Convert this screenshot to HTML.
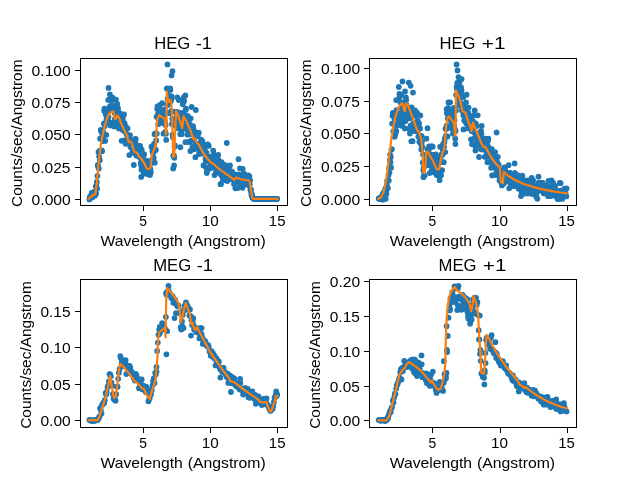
<!DOCTYPE html>
<html><head><meta charset="utf-8"><title>spectra</title>
<style>html,body{margin:0;padding:0;background:#fff;overflow:hidden}svg{display:block;will-change:transform;opacity:.999}text{font-family:"Liberation Sans",sans-serif;fill:#000}</style></head><body>
<svg width="640" height="480" viewBox="0 0 640 480">
<rect width="640" height="480" fill="#fff"/>
<g id="ax0">
<clipPath id="c0"><rect x="80.00" y="57.60" width="206.67" height="147.84"/></clipPath>
<g clip-path="url(#c0)" fill="#1f77b4" stroke="#1f77b4" stroke-width="1.39">
<circle cx="89.4" cy="199.4" r="2.2"/><circle cx="89.7" cy="197.4" r="2.2"/><circle cx="90.1" cy="197.5" r="2.2"/><circle cx="90.4" cy="197.7" r="2.2"/><circle cx="90.7" cy="195.8" r="2.2"/><circle cx="91.1" cy="196.6" r="2.2"/><circle cx="91.4" cy="196.2" r="2.2"/><circle cx="91.7" cy="193.0" r="2.2"/><circle cx="92.1" cy="197.4" r="2.2"/><circle cx="92.4" cy="196.4" r="2.2"/><circle cx="92.7" cy="193.9" r="2.2"/><circle cx="93.1" cy="194.7" r="2.2"/><circle cx="93.4" cy="195.9" r="2.2"/><circle cx="93.8" cy="194.3" r="2.2"/><circle cx="94.1" cy="194.3" r="2.2"/><circle cx="94.4" cy="191.7" r="2.2"/><circle cx="94.8" cy="195.7" r="2.2"/><circle cx="95.1" cy="194.7" r="2.2"/><circle cx="95.4" cy="193.7" r="2.2"/><circle cx="95.8" cy="186.3" r="2.2"/><circle cx="96.1" cy="193.6" r="2.2"/><circle cx="96.4" cy="186.4" r="2.2"/><circle cx="96.8" cy="181.9" r="2.2"/><circle cx="97.1" cy="188.8" r="2.2"/><circle cx="97.4" cy="176.0" r="2.2"/><circle cx="97.8" cy="165.0" r="2.2"/><circle cx="98.1" cy="166.4" r="2.2"/><circle cx="98.5" cy="152.1" r="2.2"/><circle cx="98.8" cy="168.5" r="2.2"/><circle cx="99.1" cy="156.3" r="2.2"/><circle cx="99.5" cy="150.9" r="2.2"/><circle cx="99.8" cy="160.2" r="2.2"/><circle cx="100.1" cy="138.7" r="2.2"/><circle cx="100.5" cy="151.2" r="2.2"/><circle cx="100.8" cy="129.9" r="2.2"/><circle cx="101.1" cy="138.1" r="2.2"/><circle cx="101.5" cy="131.9" r="2.2"/><circle cx="101.8" cy="150.3" r="2.2"/><circle cx="102.1" cy="151.2" r="2.2"/><circle cx="102.5" cy="133.3" r="2.2"/><circle cx="102.8" cy="141.1" r="2.2"/><circle cx="103.1" cy="131.4" r="2.2"/><circle cx="103.5" cy="136.0" r="2.2"/><circle cx="103.8" cy="123.6" r="2.2"/><circle cx="104.2" cy="111.0" r="2.2"/><circle cx="104.5" cy="108.7" r="2.2"/><circle cx="104.8" cy="126.0" r="2.2"/><circle cx="105.2" cy="140.9" r="2.2"/><circle cx="105.5" cy="122.7" r="2.2"/><circle cx="105.8" cy="114.6" r="2.2"/><circle cx="106.2" cy="134.9" r="2.2"/><circle cx="106.5" cy="119.0" r="2.2"/><circle cx="106.8" cy="116.6" r="2.2"/><circle cx="107.2" cy="117.2" r="2.2"/><circle cx="107.5" cy="113.1" r="2.2"/><circle cx="107.8" cy="110.8" r="2.2"/><circle cx="108.2" cy="99.9" r="2.2"/><circle cx="108.5" cy="116.8" r="2.2"/><circle cx="108.9" cy="110.7" r="2.2"/><circle cx="109.2" cy="121.9" r="2.2"/><circle cx="109.5" cy="107.0" r="2.2"/><circle cx="109.9" cy="94.5" r="2.2"/><circle cx="110.2" cy="109.0" r="2.2"/><circle cx="110.5" cy="125.4" r="2.2"/><circle cx="110.9" cy="105.8" r="2.2"/><circle cx="111.2" cy="100.9" r="2.2"/><circle cx="111.5" cy="97.8" r="2.2"/><circle cx="111.9" cy="98.8" r="2.2"/><circle cx="112.2" cy="105.8" r="2.2"/><circle cx="112.5" cy="97.6" r="2.2"/><circle cx="112.9" cy="122.6" r="2.2"/><circle cx="113.2" cy="106.0" r="2.2"/><circle cx="113.5" cy="109.9" r="2.2"/><circle cx="113.9" cy="124.2" r="2.2"/><circle cx="114.2" cy="126.6" r="2.2"/><circle cx="114.6" cy="113.0" r="2.2"/><circle cx="114.9" cy="119.0" r="2.2"/><circle cx="115.2" cy="122.5" r="2.2"/><circle cx="115.6" cy="114.1" r="2.2"/><circle cx="115.9" cy="99.7" r="2.2"/><circle cx="116.2" cy="121.4" r="2.2"/><circle cx="116.6" cy="122.6" r="2.2"/><circle cx="116.9" cy="117.2" r="2.2"/><circle cx="117.2" cy="104.0" r="2.2"/><circle cx="117.6" cy="111.0" r="2.2"/><circle cx="117.9" cy="107.8" r="2.2"/><circle cx="118.2" cy="110.9" r="2.2"/><circle cx="118.6" cy="125.8" r="2.2"/><circle cx="118.9" cy="128.4" r="2.2"/><circle cx="119.3" cy="121.5" r="2.2"/><circle cx="119.6" cy="121.2" r="2.2"/><circle cx="119.9" cy="123.2" r="2.2"/><circle cx="120.3" cy="117.9" r="2.2"/><circle cx="120.6" cy="118.2" r="2.2"/><circle cx="120.9" cy="113.8" r="2.2"/><circle cx="121.3" cy="120.1" r="2.2"/><circle cx="121.6" cy="140.8" r="2.2"/><circle cx="121.9" cy="129.5" r="2.2"/><circle cx="122.3" cy="119.9" r="2.2"/><circle cx="122.6" cy="119.5" r="2.2"/><circle cx="122.9" cy="117.0" r="2.2"/><circle cx="123.3" cy="128.2" r="2.2"/><circle cx="123.6" cy="129.1" r="2.2"/><circle cx="124.0" cy="114.5" r="2.2"/><circle cx="124.3" cy="131.2" r="2.2"/><circle cx="124.6" cy="123.2" r="2.2"/><circle cx="125.0" cy="140.2" r="2.2"/><circle cx="125.3" cy="130.5" r="2.2"/><circle cx="125.6" cy="143.8" r="2.2"/><circle cx="126.0" cy="126.8" r="2.2"/><circle cx="126.3" cy="128.9" r="2.2"/><circle cx="126.6" cy="134.3" r="2.2"/><circle cx="127.0" cy="141.0" r="2.2"/><circle cx="127.3" cy="141.3" r="2.2"/><circle cx="127.6" cy="128.5" r="2.2"/><circle cx="128.0" cy="140.8" r="2.2"/><circle cx="128.3" cy="140.8" r="2.2"/><circle cx="128.6" cy="138.6" r="2.2"/><circle cx="129.0" cy="137.3" r="2.2"/><circle cx="129.3" cy="155.1" r="2.2"/><circle cx="129.7" cy="138.8" r="2.2"/><circle cx="130.0" cy="135.2" r="2.2"/><circle cx="130.3" cy="146.5" r="2.2"/><circle cx="130.7" cy="142.7" r="2.2"/><circle cx="131.0" cy="141.2" r="2.2"/><circle cx="131.3" cy="147.8" r="2.2"/><circle cx="131.7" cy="146.8" r="2.2"/><circle cx="132.0" cy="147.1" r="2.2"/><circle cx="132.3" cy="152.7" r="2.2"/><circle cx="132.7" cy="148.8" r="2.2"/><circle cx="133.0" cy="143.4" r="2.2"/><circle cx="133.3" cy="146.2" r="2.2"/><circle cx="133.7" cy="146.1" r="2.2"/><circle cx="134.0" cy="152.2" r="2.2"/><circle cx="134.4" cy="144.4" r="2.2"/><circle cx="134.7" cy="139.4" r="2.2"/><circle cx="135.0" cy="152.7" r="2.2"/><circle cx="135.4" cy="143.0" r="2.2"/><circle cx="135.7" cy="138.9" r="2.2"/><circle cx="136.0" cy="154.8" r="2.2"/><circle cx="136.4" cy="147.5" r="2.2"/><circle cx="136.7" cy="155.8" r="2.2"/><circle cx="137.0" cy="149.2" r="2.2"/><circle cx="137.4" cy="145.9" r="2.2"/><circle cx="137.7" cy="145.8" r="2.2"/><circle cx="138.0" cy="151.4" r="2.2"/><circle cx="138.4" cy="153.7" r="2.2"/><circle cx="138.7" cy="150.8" r="2.2"/><circle cx="139.0" cy="154.7" r="2.2"/><circle cx="139.4" cy="146.9" r="2.2"/><circle cx="139.7" cy="157.3" r="2.2"/><circle cx="140.1" cy="146.0" r="2.2"/><circle cx="140.4" cy="156.7" r="2.2"/><circle cx="140.7" cy="162.7" r="2.2"/><circle cx="141.1" cy="165.5" r="2.2"/><circle cx="141.4" cy="169.8" r="2.2"/><circle cx="141.7" cy="149.7" r="2.2"/><circle cx="142.1" cy="164.7" r="2.2"/><circle cx="142.4" cy="167.9" r="2.2"/><circle cx="142.7" cy="167.0" r="2.2"/><circle cx="143.1" cy="155.8" r="2.2"/><circle cx="143.4" cy="164.5" r="2.2"/><circle cx="143.7" cy="173.7" r="2.2"/><circle cx="144.1" cy="154.2" r="2.2"/><circle cx="144.4" cy="166.6" r="2.2"/><circle cx="144.8" cy="171.0" r="2.2"/><circle cx="145.1" cy="161.1" r="2.2"/><circle cx="145.4" cy="169.2" r="2.2"/><circle cx="145.8" cy="160.4" r="2.2"/><circle cx="146.1" cy="162.6" r="2.2"/><circle cx="146.4" cy="163.3" r="2.2"/><circle cx="146.8" cy="169.5" r="2.2"/><circle cx="147.1" cy="168.3" r="2.2"/><circle cx="147.4" cy="174.0" r="2.2"/><circle cx="147.8" cy="163.6" r="2.2"/><circle cx="148.1" cy="168.0" r="2.2"/><circle cx="148.4" cy="174.0" r="2.2"/><circle cx="148.8" cy="171.8" r="2.2"/><circle cx="149.1" cy="161.5" r="2.2"/><circle cx="149.4" cy="172.3" r="2.2"/><circle cx="149.8" cy="165.7" r="2.2"/><circle cx="150.1" cy="170.1" r="2.2"/><circle cx="150.5" cy="169.3" r="2.2"/><circle cx="150.8" cy="172.5" r="2.2"/><circle cx="151.1" cy="162.7" r="2.2"/><circle cx="151.5" cy="146.7" r="2.2"/><circle cx="151.8" cy="147.2" r="2.2"/><circle cx="152.1" cy="159.5" r="2.2"/><circle cx="152.5" cy="151.4" r="2.2"/><circle cx="152.8" cy="160.1" r="2.2"/><circle cx="153.1" cy="153.5" r="2.2"/><circle cx="153.5" cy="145.8" r="2.2"/><circle cx="153.8" cy="157.8" r="2.2"/><circle cx="154.1" cy="143.9" r="2.2"/><circle cx="154.5" cy="134.3" r="2.2"/><circle cx="154.8" cy="162.7" r="2.2"/><circle cx="155.2" cy="133.4" r="2.2"/><circle cx="155.5" cy="150.3" r="2.2"/><circle cx="155.8" cy="149.6" r="2.2"/><circle cx="156.2" cy="140.5" r="2.2"/><circle cx="156.5" cy="116.8" r="2.2"/><circle cx="156.8" cy="133.7" r="2.2"/><circle cx="157.2" cy="109.1" r="2.2"/><circle cx="157.5" cy="106.5" r="2.2"/><circle cx="157.8" cy="114.5" r="2.2"/><circle cx="158.2" cy="124.2" r="2.2"/><circle cx="158.5" cy="119.1" r="2.2"/><circle cx="158.8" cy="123.0" r="2.2"/><circle cx="159.2" cy="111.1" r="2.2"/><circle cx="159.5" cy="113.8" r="2.2"/><circle cx="159.8" cy="105.2" r="2.2"/><circle cx="160.2" cy="113.0" r="2.2"/><circle cx="160.5" cy="121.5" r="2.2"/><circle cx="160.9" cy="113.6" r="2.2"/><circle cx="161.2" cy="120.8" r="2.2"/><circle cx="161.5" cy="111.6" r="2.2"/><circle cx="161.9" cy="111.6" r="2.2"/><circle cx="162.2" cy="117.6" r="2.2"/><circle cx="162.5" cy="115.7" r="2.2"/><circle cx="162.9" cy="123.0" r="2.2"/><circle cx="163.2" cy="119.5" r="2.2"/><circle cx="163.5" cy="133.7" r="2.2"/><circle cx="163.9" cy="116.3" r="2.2"/><circle cx="164.2" cy="116.5" r="2.2"/><circle cx="164.5" cy="109.5" r="2.2"/><circle cx="164.9" cy="121.1" r="2.2"/><circle cx="165.2" cy="131.8" r="2.2"/><circle cx="165.6" cy="125.0" r="2.2"/><circle cx="165.9" cy="133.7" r="2.2"/><circle cx="166.2" cy="139.9" r="2.2"/><circle cx="166.6" cy="112.8" r="2.2"/><circle cx="166.9" cy="88.5" r="2.2"/><circle cx="167.2" cy="104.6" r="2.2"/><circle cx="167.6" cy="98.8" r="2.2"/><circle cx="167.9" cy="104.9" r="2.2"/><circle cx="168.2" cy="113.0" r="2.2"/><circle cx="168.6" cy="113.3" r="2.2"/><circle cx="168.9" cy="98.4" r="2.2"/><circle cx="169.2" cy="95.8" r="2.2"/><circle cx="169.6" cy="103.0" r="2.2"/><circle cx="169.9" cy="98.6" r="2.2"/><circle cx="170.2" cy="88.5" r="2.2"/><circle cx="170.6" cy="113.2" r="2.2"/><circle cx="170.9" cy="101.1" r="2.2"/><circle cx="171.3" cy="111.0" r="2.2"/><circle cx="171.6" cy="96.4" r="2.2"/><circle cx="171.9" cy="123.9" r="2.2"/><circle cx="172.3" cy="118.7" r="2.2"/><circle cx="172.6" cy="134.7" r="2.2"/><circle cx="172.9" cy="137.3" r="2.2"/><circle cx="173.3" cy="155.7" r="2.2"/><circle cx="173.6" cy="155.3" r="2.2"/><circle cx="173.9" cy="155.6" r="2.2"/><circle cx="174.3" cy="157.8" r="2.2"/><circle cx="174.6" cy="146.8" r="2.2"/><circle cx="174.9" cy="145.4" r="2.2"/><circle cx="175.3" cy="125.4" r="2.2"/><circle cx="175.6" cy="112.0" r="2.2"/><circle cx="176.0" cy="112.0" r="2.2"/><circle cx="176.3" cy="117.4" r="2.2"/><circle cx="176.6" cy="123.8" r="2.2"/><circle cx="177.0" cy="120.4" r="2.2"/><circle cx="177.3" cy="97.3" r="2.2"/><circle cx="177.6" cy="117.7" r="2.2"/><circle cx="178.0" cy="128.3" r="2.2"/><circle cx="178.3" cy="116.5" r="2.2"/><circle cx="178.6" cy="112.3" r="2.2"/><circle cx="179.0" cy="120.7" r="2.2"/><circle cx="179.3" cy="114.5" r="2.2"/><circle cx="179.6" cy="125.6" r="2.2"/><circle cx="180.0" cy="120.9" r="2.2"/><circle cx="180.3" cy="134.2" r="2.2"/><circle cx="180.6" cy="127.4" r="2.2"/><circle cx="181.0" cy="117.8" r="2.2"/><circle cx="181.3" cy="130.3" r="2.2"/><circle cx="181.7" cy="134.2" r="2.2"/><circle cx="182.0" cy="122.5" r="2.2"/><circle cx="182.3" cy="123.8" r="2.2"/><circle cx="182.7" cy="104.3" r="2.2"/><circle cx="183.0" cy="129.1" r="2.2"/><circle cx="183.3" cy="112.7" r="2.2"/><circle cx="183.7" cy="97.4" r="2.2"/><circle cx="184.0" cy="101.2" r="2.2"/><circle cx="184.3" cy="115.7" r="2.2"/><circle cx="184.7" cy="125.1" r="2.2"/><circle cx="185.0" cy="118.0" r="2.2"/><circle cx="185.3" cy="123.6" r="2.2"/><circle cx="185.7" cy="110.1" r="2.2"/><circle cx="186.0" cy="108.6" r="2.2"/><circle cx="186.4" cy="129.0" r="2.2"/><circle cx="186.7" cy="126.2" r="2.2"/><circle cx="187.0" cy="122.4" r="2.2"/><circle cx="187.4" cy="134.5" r="2.2"/><circle cx="187.7" cy="115.9" r="2.2"/><circle cx="188.0" cy="121.3" r="2.2"/><circle cx="188.4" cy="134.4" r="2.2"/><circle cx="188.7" cy="142.0" r="2.2"/><circle cx="189.0" cy="127.2" r="2.2"/><circle cx="189.4" cy="142.1" r="2.2"/><circle cx="189.7" cy="123.8" r="2.2"/><circle cx="190.0" cy="132.4" r="2.2"/><circle cx="190.4" cy="129.1" r="2.2"/><circle cx="190.7" cy="118.3" r="2.2"/><circle cx="191.0" cy="134.3" r="2.2"/><circle cx="191.4" cy="140.6" r="2.2"/><circle cx="191.7" cy="132.8" r="2.2"/><circle cx="192.1" cy="134.2" r="2.2"/><circle cx="192.4" cy="146.8" r="2.2"/><circle cx="192.7" cy="126.9" r="2.2"/><circle cx="193.1" cy="126.1" r="2.2"/><circle cx="193.4" cy="133.7" r="2.2"/><circle cx="193.7" cy="129.8" r="2.2"/><circle cx="194.1" cy="149.3" r="2.2"/><circle cx="194.4" cy="141.2" r="2.2"/><circle cx="194.7" cy="132.0" r="2.2"/><circle cx="195.1" cy="133.8" r="2.2"/><circle cx="195.4" cy="157.2" r="2.2"/><circle cx="195.7" cy="135.6" r="2.2"/><circle cx="196.1" cy="135.8" r="2.2"/><circle cx="196.4" cy="144.3" r="2.2"/><circle cx="196.8" cy="147.1" r="2.2"/><circle cx="197.1" cy="144.4" r="2.2"/><circle cx="197.4" cy="136.3" r="2.2"/><circle cx="197.8" cy="134.9" r="2.2"/><circle cx="198.1" cy="148.3" r="2.2"/><circle cx="198.4" cy="143.8" r="2.2"/><circle cx="198.8" cy="132.7" r="2.2"/><circle cx="199.1" cy="154.0" r="2.2"/><circle cx="199.4" cy="151.7" r="2.2"/><circle cx="199.8" cy="144.9" r="2.2"/><circle cx="200.1" cy="145.4" r="2.2"/><circle cx="200.4" cy="149.5" r="2.2"/><circle cx="200.8" cy="143.6" r="2.2"/><circle cx="201.1" cy="139.6" r="2.2"/><circle cx="201.5" cy="152.0" r="2.2"/><circle cx="201.8" cy="140.3" r="2.2"/><circle cx="202.1" cy="153.7" r="2.2"/><circle cx="202.5" cy="141.7" r="2.2"/><circle cx="202.8" cy="151.5" r="2.2"/><circle cx="203.1" cy="151.9" r="2.2"/><circle cx="203.5" cy="165.4" r="2.2"/><circle cx="203.8" cy="146.8" r="2.2"/><circle cx="204.1" cy="144.9" r="2.2"/><circle cx="204.5" cy="150.5" r="2.2"/><circle cx="204.8" cy="147.8" r="2.2"/><circle cx="205.1" cy="151.7" r="2.2"/><circle cx="205.5" cy="158.8" r="2.2"/><circle cx="205.8" cy="161.5" r="2.2"/><circle cx="206.1" cy="167.6" r="2.2"/><circle cx="206.5" cy="152.6" r="2.2"/><circle cx="206.8" cy="173.1" r="2.2"/><circle cx="207.2" cy="170.8" r="2.2"/><circle cx="207.5" cy="157.3" r="2.2"/><circle cx="207.8" cy="144.5" r="2.2"/><circle cx="208.2" cy="158.9" r="2.2"/><circle cx="208.5" cy="160.2" r="2.2"/><circle cx="208.8" cy="145.9" r="2.2"/><circle cx="209.2" cy="161.1" r="2.2"/><circle cx="209.5" cy="159.8" r="2.2"/><circle cx="209.8" cy="156.6" r="2.2"/><circle cx="210.2" cy="165.6" r="2.2"/><circle cx="210.5" cy="168.3" r="2.2"/><circle cx="210.8" cy="159.7" r="2.2"/><circle cx="211.2" cy="164.3" r="2.2"/><circle cx="211.5" cy="159.1" r="2.2"/><circle cx="211.9" cy="158.5" r="2.2"/><circle cx="212.2" cy="163.8" r="2.2"/><circle cx="212.5" cy="166.6" r="2.2"/><circle cx="212.9" cy="160.3" r="2.2"/><circle cx="213.2" cy="150.7" r="2.2"/><circle cx="213.5" cy="167.4" r="2.2"/><circle cx="213.9" cy="154.8" r="2.2"/><circle cx="214.2" cy="165.2" r="2.2"/><circle cx="214.5" cy="175.1" r="2.2"/><circle cx="214.9" cy="165.0" r="2.2"/><circle cx="215.2" cy="158.5" r="2.2"/><circle cx="215.5" cy="157.3" r="2.2"/><circle cx="215.9" cy="172.7" r="2.2"/><circle cx="216.2" cy="166.3" r="2.2"/><circle cx="216.5" cy="169.7" r="2.2"/><circle cx="216.9" cy="172.2" r="2.2"/><circle cx="217.2" cy="167.0" r="2.2"/><circle cx="217.6" cy="165.9" r="2.2"/><circle cx="217.9" cy="162.7" r="2.2"/><circle cx="218.2" cy="155.0" r="2.2"/><circle cx="218.6" cy="160.2" r="2.2"/><circle cx="218.9" cy="168.4" r="2.2"/><circle cx="219.2" cy="168.1" r="2.2"/><circle cx="219.6" cy="171.4" r="2.2"/><circle cx="219.9" cy="168.8" r="2.2"/><circle cx="220.2" cy="170.6" r="2.2"/><circle cx="220.6" cy="174.2" r="2.2"/><circle cx="220.9" cy="165.5" r="2.2"/><circle cx="221.2" cy="168.9" r="2.2"/><circle cx="221.6" cy="162.1" r="2.2"/><circle cx="221.9" cy="176.0" r="2.2"/><circle cx="222.3" cy="171.3" r="2.2"/><circle cx="222.6" cy="173.9" r="2.2"/><circle cx="222.9" cy="179.6" r="2.2"/><circle cx="223.3" cy="177.4" r="2.2"/><circle cx="223.6" cy="171.8" r="2.2"/><circle cx="223.9" cy="176.3" r="2.2"/><circle cx="224.3" cy="165.2" r="2.2"/><circle cx="224.6" cy="175.0" r="2.2"/><circle cx="224.9" cy="173.7" r="2.2"/><circle cx="225.3" cy="165.1" r="2.2"/><circle cx="225.6" cy="180.2" r="2.2"/><circle cx="225.9" cy="170.2" r="2.2"/><circle cx="226.3" cy="177.4" r="2.2"/><circle cx="226.6" cy="172.1" r="2.2"/><circle cx="226.9" cy="179.4" r="2.2"/><circle cx="227.3" cy="181.1" r="2.2"/><circle cx="227.6" cy="170.9" r="2.2"/><circle cx="228.0" cy="167.8" r="2.2"/><circle cx="228.3" cy="174.8" r="2.2"/><circle cx="228.6" cy="179.8" r="2.2"/><circle cx="229.0" cy="174.2" r="2.2"/><circle cx="229.3" cy="173.3" r="2.2"/><circle cx="229.6" cy="178.8" r="2.2"/><circle cx="230.0" cy="165.5" r="2.2"/><circle cx="230.3" cy="173.9" r="2.2"/><circle cx="230.6" cy="170.8" r="2.2"/><circle cx="231.0" cy="178.8" r="2.2"/><circle cx="231.3" cy="174.4" r="2.2"/><circle cx="231.6" cy="172.9" r="2.2"/><circle cx="232.0" cy="176.6" r="2.2"/><circle cx="232.3" cy="171.9" r="2.2"/><circle cx="232.7" cy="178.8" r="2.2"/><circle cx="233.0" cy="176.1" r="2.2"/><circle cx="233.3" cy="177.7" r="2.2"/><circle cx="233.7" cy="176.6" r="2.2"/><circle cx="234.0" cy="183.9" r="2.2"/><circle cx="234.3" cy="179.6" r="2.2"/><circle cx="234.7" cy="181.8" r="2.2"/><circle cx="235.0" cy="181.0" r="2.2"/><circle cx="235.3" cy="174.6" r="2.2"/><circle cx="235.7" cy="180.3" r="2.2"/><circle cx="236.0" cy="179.2" r="2.2"/><circle cx="236.3" cy="179.1" r="2.2"/><circle cx="236.7" cy="176.0" r="2.2"/><circle cx="237.0" cy="176.0" r="2.2"/><circle cx="237.3" cy="181.6" r="2.2"/><circle cx="237.7" cy="188.1" r="2.2"/><circle cx="238.0" cy="174.5" r="2.2"/><circle cx="238.4" cy="180.8" r="2.2"/><circle cx="238.7" cy="176.9" r="2.2"/><circle cx="239.0" cy="182.1" r="2.2"/><circle cx="239.4" cy="180.7" r="2.2"/><circle cx="239.7" cy="183.6" r="2.2"/><circle cx="240.0" cy="168.3" r="2.2"/><circle cx="240.4" cy="176.4" r="2.2"/><circle cx="240.7" cy="174.8" r="2.2"/><circle cx="241.0" cy="178.8" r="2.2"/><circle cx="241.4" cy="176.2" r="2.2"/><circle cx="241.7" cy="176.6" r="2.2"/><circle cx="242.0" cy="182.4" r="2.2"/><circle cx="242.4" cy="187.8" r="2.2"/><circle cx="242.7" cy="169.0" r="2.2"/><circle cx="243.1" cy="178.2" r="2.2"/><circle cx="243.4" cy="181.0" r="2.2"/><circle cx="243.7" cy="179.7" r="2.2"/><circle cx="244.1" cy="178.2" r="2.2"/><circle cx="244.4" cy="173.9" r="2.2"/><circle cx="244.7" cy="175.7" r="2.2"/><circle cx="245.1" cy="183.0" r="2.2"/><circle cx="245.4" cy="184.6" r="2.2"/><circle cx="245.7" cy="180.4" r="2.2"/><circle cx="246.1" cy="176.4" r="2.2"/><circle cx="246.4" cy="180.5" r="2.2"/><circle cx="246.7" cy="179.1" r="2.2"/><circle cx="247.1" cy="182.5" r="2.2"/><circle cx="247.4" cy="180.7" r="2.2"/><circle cx="247.7" cy="177.6" r="2.2"/><circle cx="248.1" cy="181.1" r="2.2"/><circle cx="248.4" cy="175.3" r="2.2"/><circle cx="248.8" cy="183.9" r="2.2"/><circle cx="249.1" cy="185.5" r="2.2"/><circle cx="249.4" cy="176.3" r="2.2"/><circle cx="249.8" cy="184.4" r="2.2"/><circle cx="250.1" cy="180.3" r="2.2"/><circle cx="250.4" cy="189.7" r="2.2"/><circle cx="250.8" cy="191.0" r="2.2"/><circle cx="251.1" cy="189.6" r="2.2"/><circle cx="251.4" cy="194.9" r="2.2"/><circle cx="251.8" cy="193.8" r="2.2"/><circle cx="252.1" cy="196.0" r="2.2"/><circle cx="252.4" cy="197.4" r="2.2"/><circle cx="252.8" cy="198.0" r="2.2"/><circle cx="253.1" cy="198.2" r="2.2"/><circle cx="253.5" cy="198.6" r="2.2"/><circle cx="253.8" cy="198.8" r="2.2"/><circle cx="254.1" cy="198.8" r="2.2"/><circle cx="254.5" cy="198.8" r="2.2"/><circle cx="254.8" cy="198.8" r="2.2"/><circle cx="255.1" cy="198.8" r="2.2"/><circle cx="255.5" cy="198.8" r="2.2"/><circle cx="255.8" cy="198.8" r="2.2"/><circle cx="256.1" cy="198.8" r="2.2"/><circle cx="256.5" cy="198.8" r="2.2"/><circle cx="256.8" cy="198.8" r="2.2"/><circle cx="257.1" cy="198.8" r="2.2"/><circle cx="257.5" cy="198.8" r="2.2"/><circle cx="257.8" cy="198.8" r="2.2"/><circle cx="258.1" cy="198.8" r="2.2"/><circle cx="258.5" cy="198.8" r="2.2"/><circle cx="258.8" cy="198.8" r="2.2"/><circle cx="259.2" cy="198.8" r="2.2"/><circle cx="259.5" cy="198.8" r="2.2"/><circle cx="259.8" cy="198.8" r="2.2"/><circle cx="260.2" cy="198.8" r="2.2"/><circle cx="260.5" cy="198.8" r="2.2"/><circle cx="260.8" cy="198.8" r="2.2"/><circle cx="261.2" cy="198.8" r="2.2"/><circle cx="261.5" cy="198.8" r="2.2"/><circle cx="261.8" cy="198.8" r="2.2"/><circle cx="262.2" cy="198.8" r="2.2"/><circle cx="262.5" cy="198.8" r="2.2"/><circle cx="262.8" cy="198.8" r="2.2"/><circle cx="263.2" cy="198.8" r="2.2"/><circle cx="263.5" cy="198.8" r="2.2"/><circle cx="263.9" cy="198.8" r="2.2"/><circle cx="264.2" cy="198.8" r="2.2"/><circle cx="264.5" cy="198.8" r="2.2"/><circle cx="264.9" cy="198.8" r="2.2"/><circle cx="265.2" cy="198.8" r="2.2"/><circle cx="265.5" cy="198.8" r="2.2"/><circle cx="265.9" cy="198.8" r="2.2"/><circle cx="266.2" cy="198.8" r="2.2"/><circle cx="266.5" cy="198.8" r="2.2"/><circle cx="266.9" cy="198.8" r="2.2"/><circle cx="267.2" cy="198.8" r="2.2"/><circle cx="267.5" cy="198.8" r="2.2"/><circle cx="267.9" cy="198.8" r="2.2"/><circle cx="268.2" cy="198.8" r="2.2"/><circle cx="268.5" cy="198.8" r="2.2"/><circle cx="268.9" cy="198.8" r="2.2"/><circle cx="269.2" cy="198.8" r="2.2"/><circle cx="269.6" cy="198.8" r="2.2"/><circle cx="269.9" cy="198.8" r="2.2"/><circle cx="270.2" cy="198.8" r="2.2"/><circle cx="270.6" cy="198.8" r="2.2"/><circle cx="270.9" cy="198.8" r="2.2"/><circle cx="271.2" cy="198.8" r="2.2"/><circle cx="271.6" cy="198.8" r="2.2"/><circle cx="271.9" cy="198.8" r="2.2"/><circle cx="272.2" cy="198.8" r="2.2"/><circle cx="272.6" cy="198.8" r="2.2"/><circle cx="272.9" cy="198.8" r="2.2"/><circle cx="273.2" cy="198.8" r="2.2"/><circle cx="273.6" cy="198.8" r="2.2"/><circle cx="273.9" cy="198.8" r="2.2"/><circle cx="274.3" cy="198.8" r="2.2"/><circle cx="274.6" cy="198.8" r="2.2"/><circle cx="274.9" cy="198.8" r="2.2"/><circle cx="275.3" cy="198.8" r="2.2"/><circle cx="275.6" cy="198.8" r="2.2"/><circle cx="275.9" cy="198.8" r="2.2"/><circle cx="276.3" cy="198.8" r="2.2"/><circle cx="276.6" cy="198.8" r="2.2"/><circle cx="276.9" cy="198.8" r="2.2"/><circle cx="277.3" cy="198.8" r="2.2"/><circle cx="167.5" cy="64.4" r="2.2"/><circle cx="172.5" cy="71.2" r="2.2"/><circle cx="171.6" cy="75.4" r="2.2"/><circle cx="168.2" cy="90.0" r="2.2"/><circle cx="170.4" cy="90.0" r="2.2"/><circle cx="185.4" cy="95.4" r="2.2"/><circle cx="191.6" cy="107.0" r="2.2"/><circle cx="195.8" cy="110.0" r="2.2"/><circle cx="171.6" cy="99.1" r="2.2"/><circle cx="178.8" cy="100.0" r="2.2"/><circle cx="183.5" cy="100.0" r="2.2"/><circle cx="162.2" cy="103.2" r="2.2"/><circle cx="159.1" cy="107.0" r="2.2"/><circle cx="108.5" cy="87.9" r="2.2"/><circle cx="226.8" cy="143.0" r="2.2"/><circle cx="238.5" cy="159.2" r="2.2"/><circle cx="220.5" cy="184.2" r="2.2"/><circle cx="235.3" cy="188.3" r="2.2"/><circle cx="185.4" cy="142.2" r="2.2"/><circle cx="190.4" cy="151.0" r="2.2"/><circle cx="180.4" cy="147.2" r="2.2"/><circle cx="174.1" cy="165.4" r="2.2"/><circle cx="173.2" cy="168.5" r="2.2"/><circle cx="221.0" cy="184.0" r="2.2"/><circle cx="133.8" cy="165.0" r="2.2"/><circle cx="141.2" cy="176.9" r="2.2"/><circle cx="150.0" cy="175.0" r="2.2"/>
</g>
<polyline clip-path="url(#c0)" fill="none" stroke="#ff7f0e" stroke-width="2.2" stroke-linejoin="round" stroke-linecap="square" points="88.8,198.8 92.5,195.2 95.2,194.4 96.9,182.5 98.1,168.8 99.4,156.2 100.6,146.2 101.9,138.5 104.4,127.2 106.9,118.5 109.4,113.5 111.9,111.6 113.5,111.6 114.8,119.1 116.2,118.5 117.2,115.4 118.8,117.2 121.2,123.5 123.8,129.1 126.9,135.4 128.8,142.2 130.0,141.6 131.3,141.8 132.5,146.2 134.4,151.9 136.9,152.5 138.8,156.2 141.2,158.8 143.8,162.5 146.9,168.8 149.4,168.8 150.6,167.5 151.6,157.0 152.5,153.0 154.4,149.0 155.4,146.5 156.2,138.5 156.6,127.2 157.5,118.5 159.1,115.1 161.0,116.4 164.8,118.9 165.8,134.1 166.2,134.1 166.9,91.6 167.9,101.0 168.8,102.2 169.8,99.8 171.0,101.0 171.9,111.0 173.2,156.8 174.2,156.8 176.0,111.0 177.9,114.8 180.4,122.2 182.2,128.1 183.5,116.4 186.0,120.4 189.1,127.2 192.2,135.3 193.5,139.1 195.4,138.5 196.0,141.5 198.5,144.3 203.5,153.5 207.0,158.0 211.0,162.8 213.7,164.0 218.5,168.5 226.0,173.8 232.0,178.2 234.2,180.2 235.8,177.5 241.0,179.3 249.2,180.5 250.3,185.0 252.2,197.8 253.8,198.8 277.3,198.8"/>
<path d="M143.50 205.50v5.4M210.50 205.50v5.4M277.50 205.50v5.4M80.50 199.50h-5.4M80.50 167.50h-5.4M80.50 134.50h-5.4M80.50 102.50h-5.4M80.50 70.50h-5.4" stroke="#000" stroke-width="1" fill="none" shape-rendering="crispEdges"/>
<rect x="80.50" y="58.50" width="207.00" height="147.00" fill="none" stroke="#000" stroke-width="1" shape-rendering="crispEdges"/>
<text transform="translate(139.14 226.44) scale(0.9709 1)" font-size="14.31">5</text>
<text transform="translate(201.72 226.44) scale(1.0684 1)" font-size="14.31">10</text>
<text transform="translate(268.84 226.44) scale(1.0489 1)" font-size="14.31">15</text>
<text transform="translate(31.59 204.75) scale(1.0952 1)" font-size="14.31">0.000</text>
<text transform="translate(31.60 172.75) scale(1.0872 1)" font-size="14.31">0.025</text>
<text transform="translate(31.59 139.75) scale(1.0952 1)" font-size="14.31">0.050</text>
<text transform="translate(31.60 107.75) scale(1.0872 1)" font-size="14.31">0.075</text>
<text transform="translate(31.59 75.75) scale(1.0952 1)" font-size="14.31">0.100</text>
<text transform="translate(154.16 49.00) scale(0.9702 1)" font-size="17.17">HEG</text><text transform="translate(195.80 49.00) scale(1.0619 1)" font-size="17.17">-1</text>
<text transform="translate(100.43 246.24) scale(1.0828 1)" font-size="14.51">Wavelength</text><text transform="translate(187.67 246.24) scale(1.0885 1)" font-size="14.51">(Angstrom)</text>
<text transform="translate(21.76 131.52) rotate(-90) translate(-75.49 0) scale(1.0646 1)" font-size="14.51">Counts/sec/Angstrom</text>
</g>
<g id="ax1">
<clipPath id="c1"><rect x="369.33" y="57.60" width="206.67" height="147.84"/></clipPath>
<g clip-path="url(#c1)" fill="#1f77b4" stroke="#1f77b4" stroke-width="1.39">
<circle cx="378.7" cy="198.4" r="2.2"/><circle cx="379.1" cy="198.6" r="2.2"/><circle cx="379.4" cy="198.8" r="2.2"/><circle cx="379.7" cy="198.5" r="2.2"/><circle cx="380.1" cy="198.6" r="2.2"/><circle cx="380.4" cy="198.5" r="2.2"/><circle cx="380.7" cy="199.0" r="2.2"/><circle cx="381.1" cy="198.9" r="2.2"/><circle cx="381.4" cy="198.8" r="2.2"/><circle cx="381.7" cy="196.1" r="2.2"/><circle cx="382.1" cy="199.1" r="2.2"/><circle cx="382.4" cy="198.6" r="2.2"/><circle cx="382.8" cy="199.7" r="2.2"/><circle cx="383.1" cy="193.2" r="2.2"/><circle cx="383.4" cy="193.6" r="2.2"/><circle cx="383.8" cy="195.9" r="2.2"/><circle cx="384.1" cy="198.4" r="2.2"/><circle cx="384.4" cy="193.8" r="2.2"/><circle cx="384.8" cy="190.8" r="2.2"/><circle cx="385.1" cy="191.3" r="2.2"/><circle cx="385.4" cy="188.4" r="2.2"/><circle cx="385.8" cy="198.8" r="2.2"/><circle cx="386.1" cy="191.0" r="2.2"/><circle cx="386.4" cy="193.9" r="2.2"/><circle cx="386.8" cy="185.5" r="2.2"/><circle cx="387.1" cy="180.9" r="2.2"/><circle cx="387.5" cy="188.2" r="2.2"/><circle cx="387.8" cy="188.0" r="2.2"/><circle cx="388.1" cy="180.8" r="2.2"/><circle cx="388.5" cy="175.0" r="2.2"/><circle cx="388.8" cy="180.5" r="2.2"/><circle cx="389.1" cy="167.8" r="2.2"/><circle cx="389.5" cy="172.6" r="2.2"/><circle cx="389.8" cy="159.9" r="2.2"/><circle cx="390.1" cy="154.6" r="2.2"/><circle cx="390.5" cy="162.5" r="2.2"/><circle cx="390.8" cy="156.9" r="2.2"/><circle cx="391.1" cy="167.7" r="2.2"/><circle cx="391.5" cy="149.6" r="2.2"/><circle cx="391.8" cy="149.1" r="2.2"/><circle cx="392.1" cy="123.6" r="2.2"/><circle cx="392.5" cy="115.8" r="2.2"/><circle cx="392.8" cy="112.8" r="2.2"/><circle cx="393.2" cy="131.4" r="2.2"/><circle cx="393.5" cy="115.8" r="2.2"/><circle cx="393.8" cy="136.1" r="2.2"/><circle cx="394.2" cy="136.5" r="2.2"/><circle cx="394.5" cy="118.4" r="2.2"/><circle cx="394.8" cy="136.5" r="2.2"/><circle cx="395.2" cy="125.7" r="2.2"/><circle cx="395.5" cy="133.7" r="2.2"/><circle cx="395.8" cy="118.2" r="2.2"/><circle cx="396.2" cy="131.0" r="2.2"/><circle cx="396.5" cy="110.2" r="2.2"/><circle cx="396.8" cy="125.6" r="2.2"/><circle cx="397.2" cy="112.6" r="2.2"/><circle cx="397.5" cy="115.4" r="2.2"/><circle cx="397.9" cy="123.3" r="2.2"/><circle cx="398.2" cy="115.6" r="2.2"/><circle cx="398.5" cy="113.2" r="2.2"/><circle cx="398.9" cy="120.4" r="2.2"/><circle cx="399.2" cy="120.6" r="2.2"/><circle cx="399.5" cy="97.6" r="2.2"/><circle cx="399.9" cy="118.3" r="2.2"/><circle cx="400.2" cy="117.8" r="2.2"/><circle cx="400.5" cy="102.6" r="2.2"/><circle cx="400.9" cy="115.2" r="2.2"/><circle cx="401.2" cy="95.0" r="2.2"/><circle cx="401.5" cy="125.8" r="2.2"/><circle cx="401.9" cy="107.8" r="2.2"/><circle cx="402.2" cy="107.7" r="2.2"/><circle cx="402.5" cy="123.3" r="2.2"/><circle cx="402.9" cy="110.1" r="2.2"/><circle cx="403.2" cy="118.0" r="2.2"/><circle cx="403.6" cy="102.4" r="2.2"/><circle cx="403.9" cy="110.4" r="2.2"/><circle cx="404.2" cy="102.5" r="2.2"/><circle cx="404.6" cy="115.6" r="2.2"/><circle cx="404.9" cy="128.5" r="2.2"/><circle cx="405.2" cy="118.2" r="2.2"/><circle cx="405.6" cy="121.1" r="2.2"/><circle cx="405.9" cy="97.3" r="2.2"/><circle cx="406.2" cy="100.0" r="2.2"/><circle cx="406.6" cy="105.2" r="2.2"/><circle cx="406.9" cy="115.6" r="2.2"/><circle cx="407.2" cy="115.5" r="2.2"/><circle cx="407.6" cy="110.1" r="2.2"/><circle cx="407.9" cy="118.1" r="2.2"/><circle cx="408.3" cy="110.1" r="2.2"/><circle cx="408.6" cy="113.0" r="2.2"/><circle cx="408.9" cy="128.8" r="2.2"/><circle cx="409.3" cy="107.9" r="2.2"/><circle cx="409.6" cy="118.3" r="2.2"/><circle cx="409.9" cy="133.5" r="2.2"/><circle cx="410.3" cy="117.8" r="2.2"/><circle cx="410.6" cy="125.7" r="2.2"/><circle cx="410.9" cy="113.0" r="2.2"/><circle cx="411.3" cy="141.3" r="2.2"/><circle cx="411.6" cy="107.4" r="2.2"/><circle cx="411.9" cy="110.7" r="2.2"/><circle cx="412.3" cy="112.8" r="2.2"/><circle cx="412.6" cy="141.2" r="2.2"/><circle cx="412.9" cy="128.5" r="2.2"/><circle cx="413.3" cy="123.5" r="2.2"/><circle cx="413.6" cy="112.9" r="2.2"/><circle cx="414.0" cy="130.9" r="2.2"/><circle cx="414.3" cy="123.3" r="2.2"/><circle cx="414.6" cy="115.2" r="2.2"/><circle cx="415.0" cy="110.5" r="2.2"/><circle cx="415.3" cy="115.8" r="2.2"/><circle cx="415.6" cy="128.2" r="2.2"/><circle cx="416.0" cy="131.2" r="2.2"/><circle cx="416.3" cy="128.8" r="2.2"/><circle cx="416.6" cy="128.6" r="2.2"/><circle cx="417.0" cy="112.7" r="2.2"/><circle cx="417.3" cy="130.8" r="2.2"/><circle cx="417.6" cy="120.7" r="2.2"/><circle cx="418.0" cy="130.8" r="2.2"/><circle cx="418.3" cy="136.6" r="2.2"/><circle cx="418.7" cy="125.9" r="2.2"/><circle cx="419.0" cy="123.2" r="2.2"/><circle cx="419.3" cy="141.7" r="2.2"/><circle cx="419.7" cy="136.1" r="2.2"/><circle cx="420.0" cy="128.5" r="2.2"/><circle cx="420.3" cy="115.5" r="2.2"/><circle cx="420.7" cy="136.0" r="2.2"/><circle cx="421.0" cy="144.3" r="2.2"/><circle cx="421.3" cy="149.5" r="2.2"/><circle cx="421.7" cy="136.1" r="2.2"/><circle cx="422.0" cy="141.5" r="2.2"/><circle cx="422.3" cy="146.6" r="2.2"/><circle cx="422.7" cy="162.6" r="2.2"/><circle cx="423.0" cy="154.6" r="2.2"/><circle cx="423.3" cy="170.4" r="2.2"/><circle cx="423.7" cy="167.7" r="2.2"/><circle cx="424.0" cy="175.5" r="2.2"/><circle cx="424.4" cy="162.2" r="2.2"/><circle cx="424.7" cy="175.6" r="2.2"/><circle cx="425.0" cy="164.8" r="2.2"/><circle cx="425.4" cy="165.1" r="2.2"/><circle cx="425.7" cy="165.1" r="2.2"/><circle cx="426.0" cy="164.9" r="2.2"/><circle cx="426.4" cy="138.7" r="2.2"/><circle cx="426.7" cy="159.8" r="2.2"/><circle cx="427.0" cy="157.2" r="2.2"/><circle cx="427.4" cy="149.4" r="2.2"/><circle cx="427.7" cy="162.0" r="2.2"/><circle cx="428.0" cy="154.3" r="2.2"/><circle cx="428.4" cy="162.4" r="2.2"/><circle cx="428.7" cy="149.6" r="2.2"/><circle cx="429.1" cy="146.5" r="2.2"/><circle cx="429.4" cy="165.2" r="2.2"/><circle cx="429.7" cy="173.1" r="2.2"/><circle cx="430.1" cy="159.4" r="2.2"/><circle cx="430.4" cy="162.5" r="2.2"/><circle cx="430.7" cy="154.4" r="2.2"/><circle cx="431.1" cy="146.5" r="2.2"/><circle cx="431.4" cy="156.9" r="2.2"/><circle cx="431.7" cy="170.0" r="2.2"/><circle cx="432.1" cy="146.4" r="2.2"/><circle cx="432.4" cy="157.3" r="2.2"/><circle cx="432.7" cy="146.7" r="2.2"/><circle cx="433.1" cy="162.2" r="2.2"/><circle cx="433.4" cy="167.8" r="2.2"/><circle cx="433.7" cy="154.8" r="2.2"/><circle cx="434.1" cy="159.7" r="2.2"/><circle cx="434.4" cy="172.6" r="2.2"/><circle cx="434.8" cy="165.0" r="2.2"/><circle cx="435.1" cy="157.1" r="2.2"/><circle cx="435.4" cy="157.4" r="2.2"/><circle cx="435.8" cy="154.4" r="2.2"/><circle cx="436.1" cy="172.5" r="2.2"/><circle cx="436.4" cy="162.0" r="2.2"/><circle cx="436.8" cy="175.1" r="2.2"/><circle cx="437.1" cy="175.0" r="2.2"/><circle cx="437.4" cy="165.2" r="2.2"/><circle cx="437.8" cy="165.0" r="2.2"/><circle cx="438.1" cy="175.4" r="2.2"/><circle cx="438.4" cy="170.4" r="2.2"/><circle cx="438.8" cy="170.2" r="2.2"/><circle cx="439.1" cy="157.3" r="2.2"/><circle cx="439.5" cy="172.5" r="2.2"/><circle cx="439.8" cy="159.6" r="2.2"/><circle cx="440.1" cy="146.8" r="2.2"/><circle cx="440.5" cy="157.4" r="2.2"/><circle cx="440.8" cy="162.2" r="2.2"/><circle cx="441.1" cy="175.3" r="2.2"/><circle cx="441.5" cy="154.4" r="2.2"/><circle cx="441.8" cy="146.6" r="2.2"/><circle cx="442.1" cy="170.2" r="2.2"/><circle cx="442.5" cy="154.8" r="2.2"/><circle cx="442.8" cy="149.7" r="2.2"/><circle cx="443.1" cy="144.2" r="2.2"/><circle cx="443.5" cy="143.8" r="2.2"/><circle cx="443.8" cy="162.2" r="2.2"/><circle cx="444.1" cy="146.8" r="2.2"/><circle cx="444.5" cy="141.8" r="2.2"/><circle cx="444.8" cy="138.7" r="2.2"/><circle cx="445.2" cy="152.1" r="2.2"/><circle cx="445.5" cy="128.8" r="2.2"/><circle cx="445.8" cy="136.0" r="2.2"/><circle cx="446.2" cy="128.8" r="2.2"/><circle cx="446.5" cy="126.0" r="2.2"/><circle cx="446.8" cy="113.2" r="2.2"/><circle cx="447.2" cy="128.6" r="2.2"/><circle cx="447.5" cy="136.4" r="2.2"/><circle cx="447.8" cy="118.4" r="2.2"/><circle cx="448.2" cy="107.9" r="2.2"/><circle cx="448.5" cy="102.5" r="2.2"/><circle cx="448.8" cy="118.0" r="2.2"/><circle cx="449.2" cy="113.2" r="2.2"/><circle cx="449.5" cy="115.4" r="2.2"/><circle cx="449.9" cy="118.0" r="2.2"/><circle cx="450.2" cy="102.3" r="2.2"/><circle cx="450.5" cy="125.8" r="2.2"/><circle cx="450.9" cy="120.8" r="2.2"/><circle cx="451.2" cy="117.9" r="2.2"/><circle cx="451.5" cy="123.3" r="2.2"/><circle cx="451.9" cy="128.6" r="2.2"/><circle cx="452.2" cy="120.6" r="2.2"/><circle cx="452.5" cy="113.1" r="2.2"/><circle cx="452.9" cy="133.7" r="2.2"/><circle cx="453.2" cy="118.0" r="2.2"/><circle cx="453.5" cy="115.7" r="2.2"/><circle cx="453.9" cy="107.8" r="2.2"/><circle cx="454.2" cy="125.9" r="2.2"/><circle cx="454.5" cy="120.5" r="2.2"/><circle cx="454.9" cy="128.9" r="2.2"/><circle cx="455.2" cy="138.7" r="2.2"/><circle cx="455.6" cy="131.0" r="2.2"/><circle cx="455.9" cy="110.4" r="2.2"/><circle cx="456.2" cy="95.0" r="2.2"/><circle cx="456.6" cy="86.8" r="2.2"/><circle cx="456.9" cy="89.3" r="2.2"/><circle cx="457.2" cy="87.1" r="2.2"/><circle cx="457.6" cy="102.8" r="2.2"/><circle cx="457.9" cy="94.7" r="2.2"/><circle cx="458.2" cy="89.9" r="2.2"/><circle cx="458.6" cy="105.0" r="2.2"/><circle cx="458.9" cy="97.6" r="2.2"/><circle cx="459.2" cy="91.8" r="2.2"/><circle cx="459.6" cy="81.8" r="2.2"/><circle cx="459.9" cy="105.4" r="2.2"/><circle cx="460.3" cy="105.0" r="2.2"/><circle cx="460.6" cy="102.8" r="2.2"/><circle cx="460.9" cy="97.4" r="2.2"/><circle cx="461.3" cy="94.6" r="2.2"/><circle cx="461.6" cy="104.8" r="2.2"/><circle cx="461.9" cy="110.4" r="2.2"/><circle cx="462.3" cy="110.2" r="2.2"/><circle cx="462.6" cy="110.4" r="2.2"/><circle cx="462.9" cy="107.5" r="2.2"/><circle cx="463.3" cy="115.2" r="2.2"/><circle cx="463.6" cy="112.6" r="2.2"/><circle cx="463.9" cy="105.2" r="2.2"/><circle cx="464.3" cy="120.5" r="2.2"/><circle cx="464.6" cy="120.6" r="2.2"/><circle cx="465.0" cy="120.8" r="2.2"/><circle cx="465.3" cy="110.2" r="2.2"/><circle cx="465.6" cy="110.3" r="2.2"/><circle cx="466.0" cy="102.5" r="2.2"/><circle cx="466.3" cy="123.5" r="2.2"/><circle cx="466.6" cy="94.7" r="2.2"/><circle cx="467.0" cy="112.8" r="2.2"/><circle cx="467.3" cy="115.9" r="2.2"/><circle cx="467.6" cy="128.3" r="2.2"/><circle cx="468.0" cy="120.8" r="2.2"/><circle cx="468.3" cy="113.0" r="2.2"/><circle cx="468.6" cy="107.6" r="2.2"/><circle cx="469.0" cy="115.7" r="2.2"/><circle cx="469.3" cy="126.1" r="2.2"/><circle cx="469.6" cy="125.9" r="2.2"/><circle cx="470.0" cy="123.2" r="2.2"/><circle cx="470.3" cy="120.4" r="2.2"/><circle cx="470.7" cy="126.2" r="2.2"/><circle cx="471.0" cy="139.3" r="2.2"/><circle cx="471.3" cy="120.6" r="2.2"/><circle cx="471.7" cy="131.0" r="2.2"/><circle cx="472.0" cy="144.2" r="2.2"/><circle cx="472.3" cy="131.3" r="2.2"/><circle cx="472.7" cy="121.0" r="2.2"/><circle cx="473.0" cy="128.7" r="2.2"/><circle cx="473.3" cy="115.6" r="2.2"/><circle cx="473.7" cy="123.4" r="2.2"/><circle cx="474.0" cy="138.6" r="2.2"/><circle cx="474.3" cy="144.1" r="2.2"/><circle cx="474.7" cy="110.5" r="2.2"/><circle cx="475.0" cy="133.6" r="2.2"/><circle cx="475.4" cy="146.5" r="2.2"/><circle cx="475.7" cy="123.3" r="2.2"/><circle cx="476.0" cy="133.8" r="2.2"/><circle cx="476.4" cy="143.8" r="2.2"/><circle cx="476.7" cy="126.1" r="2.2"/><circle cx="477.0" cy="136.5" r="2.2"/><circle cx="477.4" cy="133.5" r="2.2"/><circle cx="477.7" cy="115.3" r="2.2"/><circle cx="478.0" cy="138.7" r="2.2"/><circle cx="478.4" cy="133.7" r="2.2"/><circle cx="478.7" cy="144.4" r="2.2"/><circle cx="479.0" cy="157.0" r="2.2"/><circle cx="479.4" cy="144.4" r="2.2"/><circle cx="479.7" cy="136.1" r="2.2"/><circle cx="480.0" cy="143.9" r="2.2"/><circle cx="480.4" cy="141.5" r="2.2"/><circle cx="480.7" cy="149.1" r="2.2"/><circle cx="481.1" cy="130.8" r="2.2"/><circle cx="481.4" cy="133.8" r="2.2"/><circle cx="481.7" cy="125.8" r="2.2"/><circle cx="482.1" cy="149.5" r="2.2"/><circle cx="482.4" cy="143.9" r="2.2"/><circle cx="482.7" cy="141.4" r="2.2"/><circle cx="483.1" cy="139.2" r="2.2"/><circle cx="483.4" cy="141.6" r="2.2"/><circle cx="483.7" cy="138.7" r="2.2"/><circle cx="484.1" cy="144.1" r="2.2"/><circle cx="484.4" cy="141.2" r="2.2"/><circle cx="484.7" cy="156.8" r="2.2"/><circle cx="485.1" cy="149.4" r="2.2"/><circle cx="485.4" cy="138.6" r="2.2"/><circle cx="485.8" cy="141.3" r="2.2"/><circle cx="486.1" cy="156.8" r="2.2"/><circle cx="486.4" cy="151.6" r="2.2"/><circle cx="486.8" cy="151.9" r="2.2"/><circle cx="487.1" cy="154.3" r="2.2"/><circle cx="487.4" cy="162.2" r="2.2"/><circle cx="487.8" cy="141.5" r="2.2"/><circle cx="488.1" cy="146.5" r="2.2"/><circle cx="488.4" cy="138.7" r="2.2"/><circle cx="488.8" cy="156.9" r="2.2"/><circle cx="489.1" cy="152.2" r="2.2"/><circle cx="489.4" cy="149.2" r="2.2"/><circle cx="489.8" cy="149.3" r="2.2"/><circle cx="490.1" cy="162.5" r="2.2"/><circle cx="490.4" cy="154.7" r="2.2"/><circle cx="490.8" cy="152.1" r="2.2"/><circle cx="491.1" cy="167.8" r="2.2"/><circle cx="491.5" cy="149.3" r="2.2"/><circle cx="491.8" cy="149.1" r="2.2"/><circle cx="492.1" cy="175.4" r="2.2"/><circle cx="492.5" cy="157.1" r="2.2"/><circle cx="492.8" cy="154.8" r="2.2"/><circle cx="493.1" cy="154.3" r="2.2"/><circle cx="493.5" cy="159.8" r="2.2"/><circle cx="493.8" cy="167.2" r="2.2"/><circle cx="494.1" cy="167.4" r="2.2"/><circle cx="494.5" cy="164.8" r="2.2"/><circle cx="494.8" cy="159.4" r="2.2"/><circle cx="495.1" cy="152.1" r="2.2"/><circle cx="495.5" cy="165.1" r="2.2"/><circle cx="495.8" cy="175.1" r="2.2"/><circle cx="496.2" cy="172.9" r="2.2"/><circle cx="496.5" cy="162.6" r="2.2"/><circle cx="496.8" cy="170.2" r="2.2"/><circle cx="497.2" cy="162.2" r="2.2"/><circle cx="497.5" cy="165.0" r="2.2"/><circle cx="497.8" cy="157.0" r="2.2"/><circle cx="498.2" cy="165.0" r="2.2"/><circle cx="498.5" cy="167.6" r="2.2"/><circle cx="498.8" cy="164.8" r="2.2"/><circle cx="499.2" cy="172.8" r="2.2"/><circle cx="499.5" cy="180.5" r="2.2"/><circle cx="499.8" cy="178.0" r="2.2"/><circle cx="500.2" cy="170.0" r="2.2"/><circle cx="500.5" cy="172.9" r="2.2"/><circle cx="500.8" cy="177.7" r="2.2"/><circle cx="501.2" cy="177.9" r="2.2"/><circle cx="501.5" cy="183.1" r="2.2"/><circle cx="501.9" cy="185.4" r="2.2"/><circle cx="502.2" cy="183.3" r="2.2"/><circle cx="502.5" cy="183.2" r="2.2"/><circle cx="502.9" cy="182.8" r="2.2"/><circle cx="503.2" cy="178.2" r="2.2"/><circle cx="503.5" cy="170.3" r="2.2"/><circle cx="503.9" cy="183.4" r="2.2"/><circle cx="504.2" cy="178.0" r="2.2"/><circle cx="504.5" cy="167.5" r="2.2"/><circle cx="504.9" cy="167.7" r="2.2"/><circle cx="505.2" cy="170.0" r="2.2"/><circle cx="505.5" cy="172.7" r="2.2"/><circle cx="505.9" cy="180.4" r="2.2"/><circle cx="506.2" cy="180.4" r="2.2"/><circle cx="506.6" cy="180.8" r="2.2"/><circle cx="506.9" cy="180.5" r="2.2"/><circle cx="507.2" cy="180.5" r="2.2"/><circle cx="507.6" cy="180.4" r="2.2"/><circle cx="507.9" cy="177.8" r="2.2"/><circle cx="508.2" cy="175.1" r="2.2"/><circle cx="508.6" cy="165.2" r="2.2"/><circle cx="508.9" cy="175.5" r="2.2"/><circle cx="509.2" cy="188.3" r="2.2"/><circle cx="509.6" cy="172.8" r="2.2"/><circle cx="509.9" cy="173.0" r="2.2"/><circle cx="510.2" cy="183.0" r="2.2"/><circle cx="510.6" cy="177.8" r="2.2"/><circle cx="510.9" cy="175.3" r="2.2"/><circle cx="511.2" cy="185.7" r="2.2"/><circle cx="511.6" cy="180.8" r="2.2"/><circle cx="511.9" cy="183.4" r="2.2"/><circle cx="512.3" cy="175.6" r="2.2"/><circle cx="512.6" cy="180.7" r="2.2"/><circle cx="512.9" cy="180.5" r="2.2"/><circle cx="513.3" cy="182.9" r="2.2"/><circle cx="513.6" cy="186.0" r="2.2"/><circle cx="513.9" cy="186.0" r="2.2"/><circle cx="514.3" cy="180.5" r="2.2"/><circle cx="514.6" cy="183.3" r="2.2"/><circle cx="514.9" cy="173.0" r="2.2"/><circle cx="515.3" cy="183.0" r="2.2"/><circle cx="515.6" cy="183.2" r="2.2"/><circle cx="515.9" cy="178.2" r="2.2"/><circle cx="516.3" cy="175.1" r="2.2"/><circle cx="516.6" cy="180.3" r="2.2"/><circle cx="517.0" cy="175.6" r="2.2"/><circle cx="517.3" cy="183.4" r="2.2"/><circle cx="517.6" cy="182.8" r="2.2"/><circle cx="518.0" cy="175.4" r="2.2"/><circle cx="518.3" cy="180.6" r="2.2"/><circle cx="518.6" cy="188.5" r="2.2"/><circle cx="519.0" cy="188.4" r="2.2"/><circle cx="519.3" cy="188.4" r="2.2"/><circle cx="519.6" cy="180.6" r="2.2"/><circle cx="520.0" cy="180.6" r="2.2"/><circle cx="520.3" cy="180.2" r="2.2"/><circle cx="520.6" cy="185.5" r="2.2"/><circle cx="521.0" cy="196.0" r="2.2"/><circle cx="521.3" cy="191.2" r="2.2"/><circle cx="521.6" cy="190.9" r="2.2"/><circle cx="522.0" cy="191.0" r="2.2"/><circle cx="522.3" cy="175.6" r="2.2"/><circle cx="522.7" cy="182.8" r="2.2"/><circle cx="523.0" cy="180.3" r="2.2"/><circle cx="523.3" cy="190.8" r="2.2"/><circle cx="523.7" cy="193.8" r="2.2"/><circle cx="524.0" cy="180.7" r="2.2"/><circle cx="524.3" cy="182.9" r="2.2"/><circle cx="524.7" cy="188.0" r="2.2"/><circle cx="525.0" cy="182.9" r="2.2"/><circle cx="525.3" cy="180.8" r="2.2"/><circle cx="525.7" cy="180.5" r="2.2"/><circle cx="526.0" cy="188.6" r="2.2"/><circle cx="526.3" cy="180.8" r="2.2"/><circle cx="526.7" cy="191.2" r="2.2"/><circle cx="527.0" cy="185.7" r="2.2"/><circle cx="527.4" cy="188.2" r="2.2"/><circle cx="527.7" cy="193.5" r="2.2"/><circle cx="528.0" cy="183.4" r="2.2"/><circle cx="528.4" cy="180.8" r="2.2"/><circle cx="528.7" cy="188.2" r="2.2"/><circle cx="529.0" cy="180.5" r="2.2"/><circle cx="529.4" cy="183.3" r="2.2"/><circle cx="529.7" cy="185.6" r="2.2"/><circle cx="530.0" cy="185.5" r="2.2"/><circle cx="530.4" cy="180.4" r="2.2"/><circle cx="530.7" cy="183.1" r="2.2"/><circle cx="531.0" cy="188.1" r="2.2"/><circle cx="531.4" cy="193.7" r="2.2"/><circle cx="531.7" cy="178.0" r="2.2"/><circle cx="532.0" cy="193.8" r="2.2"/><circle cx="532.4" cy="191.1" r="2.2"/><circle cx="532.7" cy="180.5" r="2.2"/><circle cx="533.1" cy="180.3" r="2.2"/><circle cx="533.4" cy="188.1" r="2.2"/><circle cx="533.7" cy="186.0" r="2.2"/><circle cx="534.1" cy="188.4" r="2.2"/><circle cx="534.4" cy="190.6" r="2.2"/><circle cx="534.7" cy="185.7" r="2.2"/><circle cx="535.1" cy="188.5" r="2.2"/><circle cx="535.4" cy="191.1" r="2.2"/><circle cx="535.7" cy="191.2" r="2.2"/><circle cx="536.1" cy="196.4" r="2.2"/><circle cx="536.4" cy="196.1" r="2.2"/><circle cx="536.7" cy="188.4" r="2.2"/><circle cx="537.1" cy="185.4" r="2.2"/><circle cx="537.4" cy="198.8" r="2.2"/><circle cx="537.8" cy="190.9" r="2.2"/><circle cx="538.1" cy="190.7" r="2.2"/><circle cx="538.4" cy="182.9" r="2.2"/><circle cx="538.8" cy="191.1" r="2.2"/><circle cx="539.1" cy="185.5" r="2.2"/><circle cx="539.4" cy="185.6" r="2.2"/><circle cx="539.8" cy="183.0" r="2.2"/><circle cx="540.1" cy="185.9" r="2.2"/><circle cx="540.4" cy="188.1" r="2.2"/><circle cx="540.8" cy="182.8" r="2.2"/><circle cx="541.1" cy="185.5" r="2.2"/><circle cx="541.4" cy="188.5" r="2.2"/><circle cx="541.8" cy="182.8" r="2.2"/><circle cx="542.1" cy="183.2" r="2.2"/><circle cx="542.5" cy="185.7" r="2.2"/><circle cx="542.8" cy="183.0" r="2.2"/><circle cx="543.1" cy="190.8" r="2.2"/><circle cx="543.5" cy="185.7" r="2.2"/><circle cx="543.8" cy="193.2" r="2.2"/><circle cx="544.1" cy="193.4" r="2.2"/><circle cx="544.5" cy="185.7" r="2.2"/><circle cx="544.8" cy="190.7" r="2.2"/><circle cx="545.1" cy="188.3" r="2.2"/><circle cx="545.5" cy="185.6" r="2.2"/><circle cx="545.8" cy="188.0" r="2.2"/><circle cx="546.1" cy="188.1" r="2.2"/><circle cx="546.5" cy="193.4" r="2.2"/><circle cx="546.8" cy="193.6" r="2.2"/><circle cx="547.1" cy="185.9" r="2.2"/><circle cx="547.5" cy="188.3" r="2.2"/><circle cx="547.8" cy="193.2" r="2.2"/><circle cx="548.2" cy="196.2" r="2.2"/><circle cx="548.5" cy="180.8" r="2.2"/><circle cx="548.8" cy="195.8" r="2.2"/><circle cx="549.2" cy="190.8" r="2.2"/><circle cx="549.5" cy="195.8" r="2.2"/><circle cx="549.8" cy="188.4" r="2.2"/><circle cx="550.2" cy="188.0" r="2.2"/><circle cx="550.5" cy="191.2" r="2.2"/><circle cx="550.8" cy="196.1" r="2.2"/><circle cx="551.2" cy="191.0" r="2.2"/><circle cx="551.5" cy="180.4" r="2.2"/><circle cx="551.8" cy="193.4" r="2.2"/><circle cx="552.2" cy="182.8" r="2.2"/><circle cx="552.5" cy="188.6" r="2.2"/><circle cx="552.9" cy="185.6" r="2.2"/><circle cx="553.2" cy="182.9" r="2.2"/><circle cx="553.5" cy="185.6" r="2.2"/><circle cx="553.9" cy="188.1" r="2.2"/><circle cx="554.2" cy="188.2" r="2.2"/><circle cx="554.5" cy="190.8" r="2.2"/><circle cx="554.9" cy="191.3" r="2.2"/><circle cx="555.2" cy="186.0" r="2.2"/><circle cx="555.5" cy="190.8" r="2.2"/><circle cx="555.9" cy="196.4" r="2.2"/><circle cx="556.2" cy="195.8" r="2.2"/><circle cx="556.5" cy="193.6" r="2.2"/><circle cx="556.9" cy="193.8" r="2.2"/><circle cx="557.2" cy="195.9" r="2.2"/><circle cx="557.5" cy="198.5" r="2.2"/><circle cx="557.9" cy="198.9" r="2.2"/><circle cx="558.2" cy="191.0" r="2.2"/><circle cx="558.6" cy="191.3" r="2.2"/><circle cx="558.9" cy="198.5" r="2.2"/><circle cx="559.2" cy="198.5" r="2.2"/><circle cx="559.6" cy="198.4" r="2.2"/><circle cx="559.9" cy="183.0" r="2.2"/><circle cx="560.2" cy="190.6" r="2.2"/><circle cx="560.6" cy="183.2" r="2.2"/><circle cx="560.9" cy="195.8" r="2.2"/><circle cx="561.2" cy="193.5" r="2.2"/><circle cx="561.6" cy="193.5" r="2.2"/><circle cx="561.9" cy="190.6" r="2.2"/><circle cx="562.2" cy="198.9" r="2.2"/><circle cx="562.6" cy="191.3" r="2.2"/><circle cx="562.9" cy="196.0" r="2.2"/><circle cx="563.3" cy="196.1" r="2.2"/><circle cx="563.6" cy="193.4" r="2.2"/><circle cx="563.9" cy="193.9" r="2.2"/><circle cx="564.3" cy="193.8" r="2.2"/><circle cx="564.6" cy="188.6" r="2.2"/><circle cx="564.9" cy="196.0" r="2.2"/><circle cx="565.3" cy="196.0" r="2.2"/><circle cx="565.6" cy="193.2" r="2.2"/><circle cx="565.9" cy="195.8" r="2.2"/><circle cx="566.3" cy="196.4" r="2.2"/><circle cx="566.6" cy="188.4" r="2.2"/><circle cx="456.6" cy="64.5" r="2.2"/><circle cx="457.5" cy="70.4" r="2.2"/><circle cx="458.5" cy="77.2" r="2.2"/><circle cx="461.6" cy="79.1" r="2.2"/><circle cx="457.2" cy="82.9" r="2.2"/><circle cx="458.5" cy="86.0" r="2.2"/><circle cx="461.0" cy="87.2" r="2.2"/><circle cx="461.6" cy="90.4" r="2.2"/><circle cx="463.2" cy="97.2" r="2.2"/><circle cx="402.5" cy="81.4" r="2.2"/><circle cx="408.8" cy="82.6" r="2.2"/><circle cx="398.8" cy="87.0" r="2.2"/><circle cx="410.6" cy="85.8" r="2.2"/><circle cx="405.0" cy="91.4" r="2.2"/><circle cx="413.0" cy="92.6" r="2.2"/><circle cx="399.4" cy="93.9" r="2.2"/><circle cx="396.2" cy="100.1" r="2.2"/><circle cx="496.6" cy="132.5" r="2.2"/><circle cx="455.4" cy="144.0" r="2.2"/><circle cx="463.5" cy="129.4" r="2.2"/><circle cx="475.4" cy="150.6" r="2.2"/><circle cx="514.6" cy="163.4" r="2.2"/><circle cx="538.5" cy="176.7" r="2.2"/><circle cx="423.4" cy="177.2" r="2.2"/><circle cx="438.8" cy="174.4" r="2.2"/><circle cx="439.6" cy="180.2" r="2.2"/><circle cx="427.5" cy="128.2" r="2.2"/><circle cx="446.6" cy="109.1" r="2.2"/><circle cx="452.2" cy="109.1" r="2.2"/>
</g>
<polyline clip-path="url(#c1)" fill="none" stroke="#ff7f0e" stroke-width="2.2" stroke-linejoin="round" stroke-linecap="square" points="378.4,198.8 380.9,197.5 383.4,192.5 385.2,185.0 386.8,176.2 388.0,166.2 389.2,155.0 390.5,146.2 391.5,138.0 393.4,126.0 395.9,114.8 399.0,106.6 401.8,103.2 403.0,104.8 404.0,110.4 405.0,111.0 405.9,103.5 407.8,104.8 410.2,111.0 412.8,118.5 416.5,128.5 418.0,131.6 419.0,131.6 420.9,138.5 421.5,141.0 422.5,152.5 423.4,172.5 424.6,173.1 425.5,165.0 426.2,151.9 427.8,151.9 430.2,156.2 432.8,160.6 435.2,166.2 437.1,169.4 439.0,169.4 440.4,162.0 442.2,153.8 444.1,149.4 445.0,141.2 446.2,125.0 447.9,117.5 449.1,116.2 451.6,120.0 454.1,123.1 455.0,135.6 455.5,135.6 456.0,90.4 458.5,96.0 461.0,103.5 462.4,111.2 465.4,112.4 467.2,118.8 469.8,125.0 471.6,131.2 472.9,122.5 476.0,130.0 479.1,137.5 481.6,143.8 483.5,146.9 485.4,146.9 488.5,152.5 490.0,155.6 493.5,160.5 495.6,163.4 499.8,167.6 501.0,182.3 502.9,183.0 503.8,171.8 508.3,176.0 515.3,180.2 521.6,183.0 523.0,183.8 532.2,186.6 541.3,189.1 551.9,191.1 560.3,192.5 566.6,193.2"/>
<path d="M432.50 205.50v5.4M500.50 205.50v5.4M567.50 205.50v5.4M369.50 199.50h-5.4M369.50 166.50h-5.4M369.50 133.50h-5.4M369.50 101.50h-5.4M369.50 68.50h-5.4" stroke="#000" stroke-width="1" fill="none" shape-rendering="crispEdges"/>
<rect x="369.50" y="58.50" width="207.00" height="147.00" fill="none" stroke="#000" stroke-width="1" shape-rendering="crispEdges"/>
<text transform="translate(428.47 226.44) scale(0.9709 1)" font-size="14.31">5</text>
<text transform="translate(491.05 226.44) scale(1.0684 1)" font-size="14.31">10</text>
<text transform="translate(558.17 226.44) scale(1.0489 1)" font-size="14.31">15</text>
<text transform="translate(320.93 204.75) scale(1.0952 1)" font-size="14.31">0.000</text>
<text transform="translate(320.93 171.75) scale(1.0872 1)" font-size="14.31">0.025</text>
<text transform="translate(320.93 138.75) scale(1.0952 1)" font-size="14.31">0.050</text>
<text transform="translate(320.93 106.75) scale(1.0872 1)" font-size="14.31">0.075</text>
<text transform="translate(320.93 73.75) scale(1.0952 1)" font-size="14.31">0.100</text>
<text transform="translate(439.45 49.00) scale(0.9702 1)" font-size="17.17">HEG</text><text transform="translate(481.80 49.00) scale(1.2152 1)" font-size="17.17">+1</text>
<text transform="translate(389.76 246.24) scale(1.0828 1)" font-size="14.51">Wavelength</text><text transform="translate(477.01 246.24) scale(1.0885 1)" font-size="14.51">(Angstrom)</text>
<text transform="translate(311.09 131.52) rotate(-90) translate(-75.49 0) scale(1.0646 1)" font-size="14.51">Counts/sec/Angstrom</text>
</g>
<g id="ax2">
<clipPath id="c2"><rect x="80.00" y="279.36" width="206.67" height="147.84"/></clipPath>
<g clip-path="url(#c2)" fill="#1f77b4" stroke="#1f77b4" stroke-width="1.39">
<circle cx="89.4" cy="419.9" r="2.2"/><circle cx="90.1" cy="420.2" r="2.2"/><circle cx="90.7" cy="420.6" r="2.2"/><circle cx="91.4" cy="420.8" r="2.2"/><circle cx="92.1" cy="420.5" r="2.2"/><circle cx="92.7" cy="420.5" r="2.2"/><circle cx="93.4" cy="420.4" r="2.2"/><circle cx="94.1" cy="420.8" r="2.2"/><circle cx="94.8" cy="420.7" r="2.2"/><circle cx="95.4" cy="420.2" r="2.2"/><circle cx="96.1" cy="420.1" r="2.2"/><circle cx="96.8" cy="420.0" r="2.2"/><circle cx="97.4" cy="420.0" r="2.2"/><circle cx="98.1" cy="419.2" r="2.2"/><circle cx="98.8" cy="417.9" r="2.2"/><circle cx="99.5" cy="416.4" r="2.2"/><circle cx="100.1" cy="408.2" r="2.2"/><circle cx="100.8" cy="410.0" r="2.2"/><circle cx="101.5" cy="413.5" r="2.2"/><circle cx="102.1" cy="405.0" r="2.2"/><circle cx="102.8" cy="404.1" r="2.2"/><circle cx="103.5" cy="402.6" r="2.2"/><circle cx="104.2" cy="402.9" r="2.2"/><circle cx="104.8" cy="400.2" r="2.2"/><circle cx="105.5" cy="393.1" r="2.2"/><circle cx="106.2" cy="394.4" r="2.2"/><circle cx="106.8" cy="392.0" r="2.2"/><circle cx="107.5" cy="387.3" r="2.2"/><circle cx="108.2" cy="385.7" r="2.2"/><circle cx="108.9" cy="381.5" r="2.2"/><circle cx="109.5" cy="374.1" r="2.2"/><circle cx="110.2" cy="375.0" r="2.2"/><circle cx="110.9" cy="376.3" r="2.2"/><circle cx="111.5" cy="382.6" r="2.2"/><circle cx="112.2" cy="385.8" r="2.2"/><circle cx="112.9" cy="394.1" r="2.2"/><circle cx="113.5" cy="398.4" r="2.2"/><circle cx="114.2" cy="399.5" r="2.2"/><circle cx="114.9" cy="395.8" r="2.2"/><circle cx="115.6" cy="400.7" r="2.2"/><circle cx="116.2" cy="394.2" r="2.2"/><circle cx="116.9" cy="386.7" r="2.2"/><circle cx="117.6" cy="386.7" r="2.2"/><circle cx="118.2" cy="378.8" r="2.2"/><circle cx="118.9" cy="372.7" r="2.2"/><circle cx="119.6" cy="369.0" r="2.2"/><circle cx="120.3" cy="356.1" r="2.2"/><circle cx="120.9" cy="358.2" r="2.2"/><circle cx="121.6" cy="363.2" r="2.2"/><circle cx="122.3" cy="366.1" r="2.2"/><circle cx="122.9" cy="365.7" r="2.2"/><circle cx="123.6" cy="360.6" r="2.2"/><circle cx="124.3" cy="364.1" r="2.2"/><circle cx="125.0" cy="361.8" r="2.2"/><circle cx="125.6" cy="360.2" r="2.2"/><circle cx="126.3" cy="374.0" r="2.2"/><circle cx="127.0" cy="365.4" r="2.2"/><circle cx="127.6" cy="367.1" r="2.2"/><circle cx="128.3" cy="366.2" r="2.2"/><circle cx="129.0" cy="371.3" r="2.2"/><circle cx="129.7" cy="365.9" r="2.2"/><circle cx="130.3" cy="367.6" r="2.2"/><circle cx="131.0" cy="373.1" r="2.2"/><circle cx="131.7" cy="371.7" r="2.2"/><circle cx="132.3" cy="374.8" r="2.2"/><circle cx="133.0" cy="374.7" r="2.2"/><circle cx="133.7" cy="378.0" r="2.2"/><circle cx="134.4" cy="378.7" r="2.2"/><circle cx="135.0" cy="380.5" r="2.2"/><circle cx="135.7" cy="373.8" r="2.2"/><circle cx="136.4" cy="375.1" r="2.2"/><circle cx="137.0" cy="377.8" r="2.2"/><circle cx="137.7" cy="380.3" r="2.2"/><circle cx="138.4" cy="379.1" r="2.2"/><circle cx="139.0" cy="388.2" r="2.2"/><circle cx="139.7" cy="386.4" r="2.2"/><circle cx="140.4" cy="382.6" r="2.2"/><circle cx="141.1" cy="379.7" r="2.2"/><circle cx="141.7" cy="379.4" r="2.2"/><circle cx="142.4" cy="389.4" r="2.2"/><circle cx="143.1" cy="385.6" r="2.2"/><circle cx="143.7" cy="387.8" r="2.2"/><circle cx="144.4" cy="387.3" r="2.2"/><circle cx="145.1" cy="386.4" r="2.2"/><circle cx="145.8" cy="392.1" r="2.2"/><circle cx="146.4" cy="386.9" r="2.2"/><circle cx="147.1" cy="389.0" r="2.2"/><circle cx="147.8" cy="392.3" r="2.2"/><circle cx="148.4" cy="401.3" r="2.2"/><circle cx="149.1" cy="399.3" r="2.2"/><circle cx="149.8" cy="397.8" r="2.2"/><circle cx="150.5" cy="392.9" r="2.2"/><circle cx="151.1" cy="394.3" r="2.2"/><circle cx="151.8" cy="389.9" r="2.2"/><circle cx="152.5" cy="385.4" r="2.2"/><circle cx="153.1" cy="380.8" r="2.2"/><circle cx="153.8" cy="378.5" r="2.2"/><circle cx="154.5" cy="383.0" r="2.2"/><circle cx="155.2" cy="372.8" r="2.2"/><circle cx="155.8" cy="374.6" r="2.2"/><circle cx="156.5" cy="366.9" r="2.2"/><circle cx="157.2" cy="350.9" r="2.2"/><circle cx="157.8" cy="342.6" r="2.2"/><circle cx="158.5" cy="334.8" r="2.2"/><circle cx="159.2" cy="329.6" r="2.2"/><circle cx="159.8" cy="333.3" r="2.2"/><circle cx="160.5" cy="330.6" r="2.2"/><circle cx="161.2" cy="326.2" r="2.2"/><circle cx="161.9" cy="328.8" r="2.2"/><circle cx="162.5" cy="329.6" r="2.2"/><circle cx="163.2" cy="327.6" r="2.2"/><circle cx="163.9" cy="325.8" r="2.2"/><circle cx="164.5" cy="327.2" r="2.2"/><circle cx="165.2" cy="329.4" r="2.2"/><circle cx="165.9" cy="316.9" r="2.2"/><circle cx="166.6" cy="294.8" r="2.2"/><circle cx="167.2" cy="291.6" r="2.2"/><circle cx="167.9" cy="292.3" r="2.2"/><circle cx="168.6" cy="290.6" r="2.2"/><circle cx="169.2" cy="293.9" r="2.2"/><circle cx="169.9" cy="293.3" r="2.2"/><circle cx="170.6" cy="295.4" r="2.2"/><circle cx="171.3" cy="298.0" r="2.2"/><circle cx="171.9" cy="298.0" r="2.2"/><circle cx="172.6" cy="296.1" r="2.2"/><circle cx="173.3" cy="302.8" r="2.2"/><circle cx="173.9" cy="298.8" r="2.2"/><circle cx="174.6" cy="300.9" r="2.2"/><circle cx="175.3" cy="300.2" r="2.2"/><circle cx="176.0" cy="304.1" r="2.2"/><circle cx="176.6" cy="304.0" r="2.2"/><circle cx="177.3" cy="306.1" r="2.2"/><circle cx="178.0" cy="306.4" r="2.2"/><circle cx="178.6" cy="305.7" r="2.2"/><circle cx="179.3" cy="312.8" r="2.2"/><circle cx="180.0" cy="313.4" r="2.2"/><circle cx="180.6" cy="327.3" r="2.2"/><circle cx="181.3" cy="329.5" r="2.2"/><circle cx="182.0" cy="321.5" r="2.2"/><circle cx="182.7" cy="315.1" r="2.2"/><circle cx="183.3" cy="310.6" r="2.2"/><circle cx="184.0" cy="310.7" r="2.2"/><circle cx="184.7" cy="306.0" r="2.2"/><circle cx="185.3" cy="305.6" r="2.2"/><circle cx="186.0" cy="302.4" r="2.2"/><circle cx="186.7" cy="306.6" r="2.2"/><circle cx="187.4" cy="305.5" r="2.2"/><circle cx="188.0" cy="309.8" r="2.2"/><circle cx="188.7" cy="308.5" r="2.2"/><circle cx="189.4" cy="315.5" r="2.2"/><circle cx="190.0" cy="309.5" r="2.2"/><circle cx="190.7" cy="316.2" r="2.2"/><circle cx="191.4" cy="320.0" r="2.2"/><circle cx="192.1" cy="324.9" r="2.2"/><circle cx="192.7" cy="320.5" r="2.2"/><circle cx="193.4" cy="324.7" r="2.2"/><circle cx="194.1" cy="329.5" r="2.2"/><circle cx="194.7" cy="328.7" r="2.2"/><circle cx="195.4" cy="328.1" r="2.2"/><circle cx="196.1" cy="332.0" r="2.2"/><circle cx="196.8" cy="328.1" r="2.2"/><circle cx="197.4" cy="331.3" r="2.2"/><circle cx="198.1" cy="331.7" r="2.2"/><circle cx="198.8" cy="333.0" r="2.2"/><circle cx="199.4" cy="338.4" r="2.2"/><circle cx="200.1" cy="328.1" r="2.2"/><circle cx="200.8" cy="337.1" r="2.2"/><circle cx="201.5" cy="333.8" r="2.2"/><circle cx="202.1" cy="336.8" r="2.2"/><circle cx="202.8" cy="343.9" r="2.2"/><circle cx="203.5" cy="342.3" r="2.2"/><circle cx="204.1" cy="340.1" r="2.2"/><circle cx="204.8" cy="342.3" r="2.2"/><circle cx="205.5" cy="341.7" r="2.2"/><circle cx="206.1" cy="344.8" r="2.2"/><circle cx="206.8" cy="345.2" r="2.2"/><circle cx="207.5" cy="346.4" r="2.2"/><circle cx="208.2" cy="345.2" r="2.2"/><circle cx="208.8" cy="346.9" r="2.2"/><circle cx="209.5" cy="351.5" r="2.2"/><circle cx="210.2" cy="351.3" r="2.2"/><circle cx="210.8" cy="355.7" r="2.2"/><circle cx="211.5" cy="351.2" r="2.2"/><circle cx="212.2" cy="356.4" r="2.2"/><circle cx="212.9" cy="353.2" r="2.2"/><circle cx="213.5" cy="357.1" r="2.2"/><circle cx="214.2" cy="355.1" r="2.2"/><circle cx="214.9" cy="359.1" r="2.2"/><circle cx="215.5" cy="365.4" r="2.2"/><circle cx="216.2" cy="358.0" r="2.2"/><circle cx="216.9" cy="363.3" r="2.2"/><circle cx="217.6" cy="360.5" r="2.2"/><circle cx="218.2" cy="363.9" r="2.2"/><circle cx="218.9" cy="361.7" r="2.2"/><circle cx="219.6" cy="367.1" r="2.2"/><circle cx="220.2" cy="369.3" r="2.2"/><circle cx="220.9" cy="368.3" r="2.2"/><circle cx="221.6" cy="368.2" r="2.2"/><circle cx="222.3" cy="372.0" r="2.2"/><circle cx="222.9" cy="368.2" r="2.2"/><circle cx="223.6" cy="368.0" r="2.2"/><circle cx="224.3" cy="371.3" r="2.2"/><circle cx="224.9" cy="372.7" r="2.2"/><circle cx="225.6" cy="374.5" r="2.2"/><circle cx="226.3" cy="373.5" r="2.2"/><circle cx="226.9" cy="377.3" r="2.2"/><circle cx="227.6" cy="373.7" r="2.2"/><circle cx="228.3" cy="382.9" r="2.2"/><circle cx="229.0" cy="378.6" r="2.2"/><circle cx="229.6" cy="375.3" r="2.2"/><circle cx="230.3" cy="380.1" r="2.2"/><circle cx="231.0" cy="376.2" r="2.2"/><circle cx="231.6" cy="383.3" r="2.2"/><circle cx="232.3" cy="379.1" r="2.2"/><circle cx="233.0" cy="377.8" r="2.2"/><circle cx="233.7" cy="382.5" r="2.2"/><circle cx="234.3" cy="378.5" r="2.2"/><circle cx="235.0" cy="384.5" r="2.2"/><circle cx="235.7" cy="382.9" r="2.2"/><circle cx="236.3" cy="386.3" r="2.2"/><circle cx="237.0" cy="386.6" r="2.2"/><circle cx="237.7" cy="383.9" r="2.2"/><circle cx="238.4" cy="387.0" r="2.2"/><circle cx="239.0" cy="387.9" r="2.2"/><circle cx="239.7" cy="389.4" r="2.2"/><circle cx="240.4" cy="383.1" r="2.2"/><circle cx="241.0" cy="389.6" r="2.2"/><circle cx="241.7" cy="390.1" r="2.2"/><circle cx="242.4" cy="388.9" r="2.2"/><circle cx="243.1" cy="394.6" r="2.2"/><circle cx="243.7" cy="389.8" r="2.2"/><circle cx="244.4" cy="389.5" r="2.2"/><circle cx="245.1" cy="388.0" r="2.2"/><circle cx="245.7" cy="391.8" r="2.2"/><circle cx="246.4" cy="393.0" r="2.2"/><circle cx="247.1" cy="391.6" r="2.2"/><circle cx="247.7" cy="389.0" r="2.2"/><circle cx="248.4" cy="397.3" r="2.2"/><circle cx="249.1" cy="391.4" r="2.2"/><circle cx="249.8" cy="397.8" r="2.2"/><circle cx="250.4" cy="394.6" r="2.2"/><circle cx="251.1" cy="395.3" r="2.2"/><circle cx="251.8" cy="395.6" r="2.2"/><circle cx="252.4" cy="391.3" r="2.2"/><circle cx="253.1" cy="396.1" r="2.2"/><circle cx="253.8" cy="397.1" r="2.2"/><circle cx="254.5" cy="399.1" r="2.2"/><circle cx="255.1" cy="394.9" r="2.2"/><circle cx="255.8" cy="403.8" r="2.2"/><circle cx="256.5" cy="400.0" r="2.2"/><circle cx="257.1" cy="399.1" r="2.2"/><circle cx="257.8" cy="396.7" r="2.2"/><circle cx="258.5" cy="396.3" r="2.2"/><circle cx="259.2" cy="400.1" r="2.2"/><circle cx="259.8" cy="402.7" r="2.2"/><circle cx="260.5" cy="401.9" r="2.2"/><circle cx="261.2" cy="402.1" r="2.2"/><circle cx="261.8" cy="405.1" r="2.2"/><circle cx="262.5" cy="403.0" r="2.2"/><circle cx="263.2" cy="398.9" r="2.2"/><circle cx="263.9" cy="404.2" r="2.2"/><circle cx="264.5" cy="402.7" r="2.2"/><circle cx="265.2" cy="400.3" r="2.2"/><circle cx="265.9" cy="400.8" r="2.2"/><circle cx="266.5" cy="398.4" r="2.2"/><circle cx="267.2" cy="404.3" r="2.2"/><circle cx="267.9" cy="405.4" r="2.2"/><circle cx="268.5" cy="406.2" r="2.2"/><circle cx="269.2" cy="408.6" r="2.2"/><circle cx="269.9" cy="409.8" r="2.2"/><circle cx="270.6" cy="410.9" r="2.2"/><circle cx="271.2" cy="409.4" r="2.2"/><circle cx="271.9" cy="409.1" r="2.2"/><circle cx="272.6" cy="408.8" r="2.2"/><circle cx="273.2" cy="405.9" r="2.2"/><circle cx="273.9" cy="401.9" r="2.2"/><circle cx="274.6" cy="397.8" r="2.2"/><circle cx="275.3" cy="396.4" r="2.2"/><circle cx="275.9" cy="394.7" r="2.2"/><circle cx="276.6" cy="396.1" r="2.2"/><circle cx="277.3" cy="394.7" r="2.2"/><circle cx="168.5" cy="286.0" r="2.2"/><circle cx="166.0" cy="293.1" r="2.2"/><circle cx="176.0" cy="313.1" r="2.2"/><circle cx="174.5" cy="318.1" r="2.2"/><circle cx="182.2" cy="326.2" r="2.2"/><circle cx="183.5" cy="328.1" r="2.2"/><circle cx="193.2" cy="318.1" r="2.2"/><circle cx="162.2" cy="323.1" r="2.2"/><circle cx="159.8" cy="326.9" r="2.2"/><circle cx="167.2" cy="331.2" r="2.2"/><circle cx="191.0" cy="335.6" r="2.2"/><circle cx="201.6" cy="328.1" r="2.2"/><circle cx="240.1" cy="378.9" r="2.2"/><circle cx="220.4" cy="377.6" r="2.2"/><circle cx="230.9" cy="392.0" r="2.2"/><circle cx="276.2" cy="391.3" r="2.2"/><circle cx="115.2" cy="399.8" r="2.2"/><circle cx="156.5" cy="371.6" r="2.2"/><circle cx="110.2" cy="374.5" r="2.2"/><circle cx="166.4" cy="354.3" r="2.2"/>
</g>
<polyline clip-path="url(#c2)" fill="none" stroke="#ff7f0e" stroke-width="2.2" stroke-linejoin="round" stroke-linecap="square" points="88.8,420.2 97.2,420.2 98.6,418.5 99.6,416.0 102.8,406.0 105.9,396.0 108.4,384.8 110.2,376.0 112.1,388.5 114.0,397.9 115.9,396.0 117.5,383.5 119.2,368.5 120.2,363.8 122.8,366.0 126.5,370.4 130.2,374.8 134.0,380.4 137.8,383.5 141.5,387.9 144.0,389.1 146.5,394.8 149.6,399.1 151.5,392.2 154.0,384.8 155.5,379.8 156.5,368.5 157.5,356.0 157.9,340.0 159.1,332.5 162.2,330.0 164.8,327.5 165.6,337.5 166.2,300.0 167.2,288.1 171.0,292.5 174.8,297.5 178.5,303.1 179.8,311.2 180.8,322.5 182.2,317.5 184.1,308.8 185.8,302.8 187.9,308.8 190.0,314.4 191.0,323.8 192.5,322.5 194.1,328.8 195.4,330.0 197.0,326.9 199.8,332.5 203.5,339.4 210.4,352.5 216.5,361.2 224.4,372.3 229.1,378.3 230.5,381.3 234.2,382.2 240.1,386.8 248.0,392.7 255.9,397.9 258.5,399.9 259.8,401.8 263.8,402.5 266.4,401.8 267.7,406.4 270.3,411.7 271.6,410.4 274.2,402.5 276.2,395.9 277.3,395.9"/>
<path d="M143.50 427.50v5.4M210.50 427.50v5.4M277.50 427.50v5.4M80.50 420.50h-5.4M80.50 384.50h-5.4M80.50 347.50h-5.4M80.50 311.50h-5.4" stroke="#000" stroke-width="1" fill="none" shape-rendering="crispEdges"/>
<rect x="80.50" y="279.50" width="207.00" height="148.00" fill="none" stroke="#000" stroke-width="1" shape-rendering="crispEdges"/>
<text transform="translate(139.14 448.20) scale(0.9709 1)" font-size="14.31">5</text>
<text transform="translate(201.72 448.20) scale(1.0684 1)" font-size="14.31">10</text>
<text transform="translate(268.84 448.20) scale(1.0489 1)" font-size="14.31">15</text>
<text transform="translate(40.43 425.75) scale(1.0906 1)" font-size="14.31">0.00</text>
<text transform="translate(40.44 389.75) scale(1.0802 1)" font-size="14.31">0.05</text>
<text transform="translate(40.43 352.75) scale(1.0906 1)" font-size="14.31">0.10</text>
<text transform="translate(40.44 316.75) scale(1.0802 1)" font-size="14.31">0.15</text>
<text transform="translate(153.21 271.00) scale(0.9711 1)" font-size="17.17">MEG</text><text transform="translate(196.74 271.00) scale(1.0619 1)" font-size="17.17">-1</text>
<text transform="translate(100.43 468.00) scale(1.0828 1)" font-size="14.51">Wavelength</text><text transform="translate(187.67 468.00) scale(1.0885 1)" font-size="14.51">(Angstrom)</text>
<text transform="translate(30.60 353.28) rotate(-90) translate(-75.49 0) scale(1.0646 1)" font-size="14.51">Counts/sec/Angstrom</text>
</g>
<g id="ax3">
<clipPath id="c3"><rect x="369.33" y="279.36" width="206.67" height="147.84"/></clipPath>
<g clip-path="url(#c3)" fill="#1f77b4" stroke="#1f77b4" stroke-width="1.39">
<circle cx="378.7" cy="420.1" r="2.2"/><circle cx="379.4" cy="420.0" r="2.2"/><circle cx="380.1" cy="420.5" r="2.2"/><circle cx="380.7" cy="420.5" r="2.2"/><circle cx="381.4" cy="420.6" r="2.2"/><circle cx="382.1" cy="420.0" r="2.2"/><circle cx="382.8" cy="419.8" r="2.2"/><circle cx="383.4" cy="419.8" r="2.2"/><circle cx="384.1" cy="420.3" r="2.2"/><circle cx="384.8" cy="421.1" r="2.2"/><circle cx="385.4" cy="420.5" r="2.2"/><circle cx="386.1" cy="420.0" r="2.2"/><circle cx="386.8" cy="420.1" r="2.2"/><circle cx="387.5" cy="417.7" r="2.2"/><circle cx="388.1" cy="418.3" r="2.2"/><circle cx="388.8" cy="415.0" r="2.2"/><circle cx="389.5" cy="412.8" r="2.2"/><circle cx="390.1" cy="410.8" r="2.2"/><circle cx="390.8" cy="411.9" r="2.2"/><circle cx="391.5" cy="408.1" r="2.2"/><circle cx="392.1" cy="407.1" r="2.2"/><circle cx="392.8" cy="400.6" r="2.2"/><circle cx="393.5" cy="402.4" r="2.2"/><circle cx="394.2" cy="397.3" r="2.2"/><circle cx="394.8" cy="393.7" r="2.2"/><circle cx="395.5" cy="394.0" r="2.2"/><circle cx="396.2" cy="388.5" r="2.2"/><circle cx="396.8" cy="385.2" r="2.2"/><circle cx="397.5" cy="384.3" r="2.2"/><circle cx="398.2" cy="381.9" r="2.2"/><circle cx="398.9" cy="379.9" r="2.2"/><circle cx="399.5" cy="377.7" r="2.2"/><circle cx="400.2" cy="372.4" r="2.2"/><circle cx="400.9" cy="369.2" r="2.2"/><circle cx="401.5" cy="379.5" r="2.2"/><circle cx="402.2" cy="368.0" r="2.2"/><circle cx="402.9" cy="370.9" r="2.2"/><circle cx="403.6" cy="367.1" r="2.2"/><circle cx="404.2" cy="361.0" r="2.2"/><circle cx="404.9" cy="366.3" r="2.2"/><circle cx="405.6" cy="364.3" r="2.2"/><circle cx="406.2" cy="366.8" r="2.2"/><circle cx="406.9" cy="362.8" r="2.2"/><circle cx="407.6" cy="367.0" r="2.2"/><circle cx="408.3" cy="364.7" r="2.2"/><circle cx="408.9" cy="363.3" r="2.2"/><circle cx="409.6" cy="361.5" r="2.2"/><circle cx="410.3" cy="363.0" r="2.2"/><circle cx="410.9" cy="360.2" r="2.2"/><circle cx="411.6" cy="362.4" r="2.2"/><circle cx="412.3" cy="368.7" r="2.2"/><circle cx="412.9" cy="359.5" r="2.2"/><circle cx="413.6" cy="364.9" r="2.2"/><circle cx="414.3" cy="368.2" r="2.2"/><circle cx="415.0" cy="359.7" r="2.2"/><circle cx="415.6" cy="367.8" r="2.2"/><circle cx="416.3" cy="366.4" r="2.2"/><circle cx="417.0" cy="369.1" r="2.2"/><circle cx="417.6" cy="367.7" r="2.2"/><circle cx="418.3" cy="362.3" r="2.2"/><circle cx="419.0" cy="367.1" r="2.2"/><circle cx="419.7" cy="368.9" r="2.2"/><circle cx="420.3" cy="372.7" r="2.2"/><circle cx="421.0" cy="373.7" r="2.2"/><circle cx="421.7" cy="364.3" r="2.2"/><circle cx="422.3" cy="377.2" r="2.2"/><circle cx="423.0" cy="373.1" r="2.2"/><circle cx="423.7" cy="375.1" r="2.2"/><circle cx="424.4" cy="375.5" r="2.2"/><circle cx="425.0" cy="375.3" r="2.2"/><circle cx="425.7" cy="379.9" r="2.2"/><circle cx="426.4" cy="373.4" r="2.2"/><circle cx="427.0" cy="383.2" r="2.2"/><circle cx="427.7" cy="377.4" r="2.2"/><circle cx="428.4" cy="374.7" r="2.2"/><circle cx="429.1" cy="381.3" r="2.2"/><circle cx="429.7" cy="385.8" r="2.2"/><circle cx="430.4" cy="379.3" r="2.2"/><circle cx="431.1" cy="374.6" r="2.2"/><circle cx="431.7" cy="385.7" r="2.2"/><circle cx="432.4" cy="383.9" r="2.2"/><circle cx="433.1" cy="382.8" r="2.2"/><circle cx="433.7" cy="385.2" r="2.2"/><circle cx="434.4" cy="383.2" r="2.2"/><circle cx="435.1" cy="384.5" r="2.2"/><circle cx="435.8" cy="389.7" r="2.2"/><circle cx="436.4" cy="387.3" r="2.2"/><circle cx="437.1" cy="390.0" r="2.2"/><circle cx="437.8" cy="388.3" r="2.2"/><circle cx="438.4" cy="390.2" r="2.2"/><circle cx="439.1" cy="387.5" r="2.2"/><circle cx="439.8" cy="381.8" r="2.2"/><circle cx="440.5" cy="389.8" r="2.2"/><circle cx="441.1" cy="385.6" r="2.2"/><circle cx="441.8" cy="387.9" r="2.2"/><circle cx="442.5" cy="383.6" r="2.2"/><circle cx="443.1" cy="390.9" r="2.2"/><circle cx="443.8" cy="382.5" r="2.2"/><circle cx="444.5" cy="374.2" r="2.2"/><circle cx="445.2" cy="376.9" r="2.2"/><circle cx="445.8" cy="376.7" r="2.2"/><circle cx="446.5" cy="373.0" r="2.2"/><circle cx="447.2" cy="352.1" r="2.2"/><circle cx="447.8" cy="336.0" r="2.2"/><circle cx="448.5" cy="317.7" r="2.2"/><circle cx="449.2" cy="310.3" r="2.2"/><circle cx="449.9" cy="308.7" r="2.2"/><circle cx="450.5" cy="298.1" r="2.2"/><circle cx="451.2" cy="300.6" r="2.2"/><circle cx="451.9" cy="296.2" r="2.2"/><circle cx="452.5" cy="296.8" r="2.2"/><circle cx="453.2" cy="301.4" r="2.2"/><circle cx="453.9" cy="297.2" r="2.2"/><circle cx="454.5" cy="286.3" r="2.2"/><circle cx="455.2" cy="302.2" r="2.2"/><circle cx="455.9" cy="288.1" r="2.2"/><circle cx="456.6" cy="299.2" r="2.2"/><circle cx="457.2" cy="310.1" r="2.2"/><circle cx="457.9" cy="305.5" r="2.2"/><circle cx="458.6" cy="296.7" r="2.2"/><circle cx="459.2" cy="308.0" r="2.2"/><circle cx="459.9" cy="306.5" r="2.2"/><circle cx="460.6" cy="296.5" r="2.2"/><circle cx="461.3" cy="309.8" r="2.2"/><circle cx="461.9" cy="299.9" r="2.2"/><circle cx="462.6" cy="294.9" r="2.2"/><circle cx="463.3" cy="300.5" r="2.2"/><circle cx="463.9" cy="296.8" r="2.2"/><circle cx="464.6" cy="302.0" r="2.2"/><circle cx="465.3" cy="303.1" r="2.2"/><circle cx="466.0" cy="298.5" r="2.2"/><circle cx="466.6" cy="300.3" r="2.2"/><circle cx="467.3" cy="299.3" r="2.2"/><circle cx="468.0" cy="316.3" r="2.2"/><circle cx="468.6" cy="304.8" r="2.2"/><circle cx="469.3" cy="314.0" r="2.2"/><circle cx="470.0" cy="317.8" r="2.2"/><circle cx="470.7" cy="321.1" r="2.2"/><circle cx="471.3" cy="314.4" r="2.2"/><circle cx="472.0" cy="307.3" r="2.2"/><circle cx="472.7" cy="310.1" r="2.2"/><circle cx="473.3" cy="303.2" r="2.2"/><circle cx="474.0" cy="302.2" r="2.2"/><circle cx="474.7" cy="297.6" r="2.2"/><circle cx="475.4" cy="303.5" r="2.2"/><circle cx="476.0" cy="297.8" r="2.2"/><circle cx="476.7" cy="304.9" r="2.2"/><circle cx="477.4" cy="302.1" r="2.2"/><circle cx="478.0" cy="315.0" r="2.2"/><circle cx="478.7" cy="330.2" r="2.2"/><circle cx="479.4" cy="339.6" r="2.2"/><circle cx="480.0" cy="353.9" r="2.2"/><circle cx="480.7" cy="360.8" r="2.2"/><circle cx="481.4" cy="373.5" r="2.2"/><circle cx="482.1" cy="372.9" r="2.2"/><circle cx="482.7" cy="376.7" r="2.2"/><circle cx="483.4" cy="373.8" r="2.2"/><circle cx="484.1" cy="377.8" r="2.2"/><circle cx="484.7" cy="370.3" r="2.2"/><circle cx="485.4" cy="352.9" r="2.2"/><circle cx="486.1" cy="339.8" r="2.2"/><circle cx="486.8" cy="337.6" r="2.2"/><circle cx="487.4" cy="343.9" r="2.2"/><circle cx="488.1" cy="344.1" r="2.2"/><circle cx="488.8" cy="344.4" r="2.2"/><circle cx="489.4" cy="343.1" r="2.2"/><circle cx="490.1" cy="348.7" r="2.2"/><circle cx="490.8" cy="338.1" r="2.2"/><circle cx="491.5" cy="349.1" r="2.2"/><circle cx="492.1" cy="349.5" r="2.2"/><circle cx="492.8" cy="349.7" r="2.2"/><circle cx="493.5" cy="352.2" r="2.2"/><circle cx="494.1" cy="353.4" r="2.2"/><circle cx="494.8" cy="353.6" r="2.2"/><circle cx="495.5" cy="352.5" r="2.2"/><circle cx="496.2" cy="357.9" r="2.2"/><circle cx="496.8" cy="353.9" r="2.2"/><circle cx="497.5" cy="358.8" r="2.2"/><circle cx="498.2" cy="358.4" r="2.2"/><circle cx="498.8" cy="361.6" r="2.2"/><circle cx="499.5" cy="362.5" r="2.2"/><circle cx="500.2" cy="361.2" r="2.2"/><circle cx="500.8" cy="365.5" r="2.2"/><circle cx="501.5" cy="361.7" r="2.2"/><circle cx="502.2" cy="362.0" r="2.2"/><circle cx="502.9" cy="361.2" r="2.2"/><circle cx="503.5" cy="365.2" r="2.2"/><circle cx="504.2" cy="366.9" r="2.2"/><circle cx="504.9" cy="368.3" r="2.2"/><circle cx="505.5" cy="366.7" r="2.2"/><circle cx="506.2" cy="365.3" r="2.2"/><circle cx="506.9" cy="370.2" r="2.2"/><circle cx="507.6" cy="371.6" r="2.2"/><circle cx="508.2" cy="373.4" r="2.2"/><circle cx="508.9" cy="373.9" r="2.2"/><circle cx="509.6" cy="373.0" r="2.2"/><circle cx="510.2" cy="374.3" r="2.2"/><circle cx="510.9" cy="375.6" r="2.2"/><circle cx="511.6" cy="377.5" r="2.2"/><circle cx="512.3" cy="380.0" r="2.2"/><circle cx="512.9" cy="375.5" r="2.2"/><circle cx="513.6" cy="381.1" r="2.2"/><circle cx="514.3" cy="378.6" r="2.2"/><circle cx="514.9" cy="380.0" r="2.2"/><circle cx="515.6" cy="379.7" r="2.2"/><circle cx="516.3" cy="384.0" r="2.2"/><circle cx="517.0" cy="386.2" r="2.2"/><circle cx="517.6" cy="383.9" r="2.2"/><circle cx="518.3" cy="382.9" r="2.2"/><circle cx="519.0" cy="382.3" r="2.2"/><circle cx="519.6" cy="386.4" r="2.2"/><circle cx="520.3" cy="385.3" r="2.2"/><circle cx="521.0" cy="387.7" r="2.2"/><circle cx="521.6" cy="388.3" r="2.2"/><circle cx="522.3" cy="383.9" r="2.2"/><circle cx="523.0" cy="385.6" r="2.2"/><circle cx="523.7" cy="385.1" r="2.2"/><circle cx="524.3" cy="383.2" r="2.2"/><circle cx="525.0" cy="389.7" r="2.2"/><circle cx="525.7" cy="389.8" r="2.2"/><circle cx="526.3" cy="391.9" r="2.2"/><circle cx="527.0" cy="387.7" r="2.2"/><circle cx="527.7" cy="392.7" r="2.2"/><circle cx="528.4" cy="392.5" r="2.2"/><circle cx="529.0" cy="389.6" r="2.2"/><circle cx="529.7" cy="389.9" r="2.2"/><circle cx="530.4" cy="390.6" r="2.2"/><circle cx="531.0" cy="392.1" r="2.2"/><circle cx="531.7" cy="395.7" r="2.2"/><circle cx="532.4" cy="390.8" r="2.2"/><circle cx="533.1" cy="390.0" r="2.2"/><circle cx="533.7" cy="396.3" r="2.2"/><circle cx="534.4" cy="394.3" r="2.2"/><circle cx="535.1" cy="390.6" r="2.2"/><circle cx="535.7" cy="393.2" r="2.2"/><circle cx="536.4" cy="393.4" r="2.2"/><circle cx="537.1" cy="395.0" r="2.2"/><circle cx="537.8" cy="397.0" r="2.2"/><circle cx="538.4" cy="398.8" r="2.2"/><circle cx="539.1" cy="397.5" r="2.2"/><circle cx="539.8" cy="398.0" r="2.2"/><circle cx="540.4" cy="396.4" r="2.2"/><circle cx="541.1" cy="401.4" r="2.2"/><circle cx="541.8" cy="401.8" r="2.2"/><circle cx="542.5" cy="397.3" r="2.2"/><circle cx="543.1" cy="397.9" r="2.2"/><circle cx="543.8" cy="404.7" r="2.2"/><circle cx="544.5" cy="402.6" r="2.2"/><circle cx="545.1" cy="399.3" r="2.2"/><circle cx="545.8" cy="397.3" r="2.2"/><circle cx="546.5" cy="401.3" r="2.2"/><circle cx="547.1" cy="404.7" r="2.2"/><circle cx="547.8" cy="401.4" r="2.2"/><circle cx="548.5" cy="401.3" r="2.2"/><circle cx="549.2" cy="400.7" r="2.2"/><circle cx="549.8" cy="404.3" r="2.2"/><circle cx="550.5" cy="407.0" r="2.2"/><circle cx="551.2" cy="401.1" r="2.2"/><circle cx="551.8" cy="403.2" r="2.2"/><circle cx="552.5" cy="403.1" r="2.2"/><circle cx="553.2" cy="402.2" r="2.2"/><circle cx="553.9" cy="400.6" r="2.2"/><circle cx="554.5" cy="406.3" r="2.2"/><circle cx="555.2" cy="405.2" r="2.2"/><circle cx="555.9" cy="407.8" r="2.2"/><circle cx="556.5" cy="409.0" r="2.2"/><circle cx="557.2" cy="404.9" r="2.2"/><circle cx="557.9" cy="407.0" r="2.2"/><circle cx="558.6" cy="404.2" r="2.2"/><circle cx="559.2" cy="405.7" r="2.2"/><circle cx="559.9" cy="407.6" r="2.2"/><circle cx="560.6" cy="406.8" r="2.2"/><circle cx="561.2" cy="404.4" r="2.2"/><circle cx="561.9" cy="410.7" r="2.2"/><circle cx="562.6" cy="408.2" r="2.2"/><circle cx="563.3" cy="405.6" r="2.2"/><circle cx="563.9" cy="403.2" r="2.2"/><circle cx="564.6" cy="407.2" r="2.2"/><circle cx="565.3" cy="410.4" r="2.2"/><circle cx="565.9" cy="411.1" r="2.2"/><circle cx="566.6" cy="411.4" r="2.2"/><circle cx="452.3" cy="296.2" r="2.2"/><circle cx="476.3" cy="303.8" r="2.2"/><circle cx="468.4" cy="318.8" r="2.2"/><circle cx="453.7" cy="300.8" r="2.2"/><circle cx="465.6" cy="300.6" r="2.2"/><circle cx="452.4" cy="299.2" r="2.2"/><circle cx="449.6" cy="304.9" r="2.2"/><circle cx="469.4" cy="316.9" r="2.2"/><circle cx="470.1" cy="323.7" r="2.2"/><circle cx="463.5" cy="303.9" r="2.2"/><circle cx="452.5" cy="296.7" r="2.2"/><circle cx="457.8" cy="288.2" r="2.2"/><circle cx="451.1" cy="301.9" r="2.2"/><circle cx="454.8" cy="301.3" r="2.2"/><circle cx="450.0" cy="309.9" r="2.2"/><circle cx="467.9" cy="310.9" r="2.2"/><circle cx="471.4" cy="308.4" r="2.2"/><circle cx="463.5" cy="299.7" r="2.2"/><circle cx="467.8" cy="312.7" r="2.2"/><circle cx="452.5" cy="292.2" r="2.2"/><circle cx="475.2" cy="298.2" r="2.2"/><circle cx="465.8" cy="299.0" r="2.2"/><circle cx="451.7" cy="300.2" r="2.2"/><circle cx="464.0" cy="298.8" r="2.2"/><circle cx="461.8" cy="298.9" r="2.2"/><circle cx="474.0" cy="312.0" r="2.2"/><circle cx="470.5" cy="307.4" r="2.2"/><circle cx="450.9" cy="299.6" r="2.2"/><circle cx="467.4" cy="308.2" r="2.2"/><circle cx="449.6" cy="310.3" r="2.2"/><circle cx="462.9" cy="309.0" r="2.2"/><circle cx="473.1" cy="299.4" r="2.2"/><circle cx="453.6" cy="296.7" r="2.2"/><circle cx="467.4" cy="311.8" r="2.2"/><circle cx="421.5" cy="355.4" r="2.2"/><circle cx="458.5" cy="286.0" r="2.2"/><circle cx="446.6" cy="326.2" r="2.2"/><circle cx="471.6" cy="319.4" r="2.2"/><circle cx="475.4" cy="313.8" r="2.2"/><circle cx="479.8" cy="315.6" r="2.2"/><circle cx="491.6" cy="335.2" r="2.2"/><circle cx="495.4" cy="342.2" r="2.2"/><circle cx="479.1" cy="339.4" r="2.2"/><circle cx="480.4" cy="350.0" r="2.2"/><circle cx="484.8" cy="372.5" r="2.2"/><circle cx="446.9" cy="350.0" r="2.2"/><circle cx="443.8" cy="361.2" r="2.2"/><circle cx="432.8" cy="371.6" r="2.2"/><circle cx="436.5" cy="392.9" r="2.2"/><circle cx="445.9" cy="378.5" r="2.2"/><circle cx="518.8" cy="391.4" r="2.2"/><circle cx="547.5" cy="396.8" r="2.2"/><circle cx="556.2" cy="399.5" r="2.2"/><circle cx="560.6" cy="411.4" r="2.2"/><circle cx="484.4" cy="384.4" r="2.2"/><circle cx="485.6" cy="363.1" r="2.2"/><circle cx="415.6" cy="373.8" r="2.2"/><circle cx="417.0" cy="376.0" r="2.2"/><circle cx="414.0" cy="372.3" r="2.2"/>
</g>
<polyline clip-path="url(#c3)" fill="none" stroke="#ff7f0e" stroke-width="2.2" stroke-linejoin="round" stroke-linecap="square" points="378.4,420.4 386.5,420.4 389.0,416.6 390.9,409.8 393.4,399.8 395.9,389.8 397.5,382.5 399.4,375.0 401.9,370.6 405.0,367.5 406.9,363.8 408.8,362.2 411.9,363.8 416.2,366.9 421.2,371.2 425.0,375.6 428.8,380.0 430.6,382.5 431.9,380.6 434.4,385.0 436.9,388.8 438.8,389.8 440.6,388.8 442.5,382.5 444.4,373.8 445.4,361.2 445.8,340.0 446.2,327.5 447.0,315.0 447.9,305.0 449.1,297.5 451.0,291.9 453.5,288.1 455.0,286.9 456.6,290.0 459.1,291.9 462.2,294.4 465.4,297.5 467.9,301.2 469.8,305.0 471.2,311.2 472.5,305.0 473.5,296.2 475.4,301.2 477.2,307.5 478.2,316.0 479.1,335.0 480.4,352.5 481.2,372.5 484.1,373.8 484.8,363.8 485.8,345.0 486.6,334.8 489.1,338.8 492.9,346.2 497.2,353.8 502.2,361.2 507.2,368.1 512.5,374.5 517.5,380.8 520.0,385.1 523.1,386.4 524.4,388.2 525.6,387.0 531.2,391.4 537.5,395.8 543.8,399.5 550.0,402.6 556.2,405.1 562.5,407.2 566.6,408.2"/>
<path d="M432.50 427.50v5.4M500.50 427.50v5.4M567.50 427.50v5.4M369.50 420.50h-5.4M369.50 386.50h-5.4M369.50 351.50h-5.4M369.50 316.50h-5.4M369.50 281.50h-5.4" stroke="#000" stroke-width="1" fill="none" shape-rendering="crispEdges"/>
<rect x="369.50" y="279.50" width="207.00" height="148.00" fill="none" stroke="#000" stroke-width="1" shape-rendering="crispEdges"/>
<text transform="translate(428.47 448.20) scale(0.9709 1)" font-size="14.31">5</text>
<text transform="translate(491.05 448.20) scale(1.0684 1)" font-size="14.31">10</text>
<text transform="translate(558.17 448.20) scale(1.0489 1)" font-size="14.31">15</text>
<text transform="translate(329.77 425.75) scale(1.0906 1)" font-size="14.31">0.00</text>
<text transform="translate(329.77 391.75) scale(1.0802 1)" font-size="14.31">0.05</text>
<text transform="translate(329.77 356.75) scale(1.0906 1)" font-size="14.31">0.10</text>
<text transform="translate(329.77 321.75) scale(1.0802 1)" font-size="14.31">0.15</text>
<text transform="translate(329.77 286.75) scale(1.0906 1)" font-size="14.31">0.20</text>
<text transform="translate(438.50 271.00) scale(0.9711 1)" font-size="17.17">MEG</text><text transform="translate(482.74 271.00) scale(1.2152 1)" font-size="17.17">+1</text>
<text transform="translate(389.76 468.00) scale(1.0828 1)" font-size="14.51">Wavelength</text><text transform="translate(477.01 468.00) scale(1.0885 1)" font-size="14.51">(Angstrom)</text>
<text transform="translate(319.93 353.28) rotate(-90) translate(-75.49 0) scale(1.0646 1)" font-size="14.51">Counts/sec/Angstrom</text>
</g>
</svg></body></html>
